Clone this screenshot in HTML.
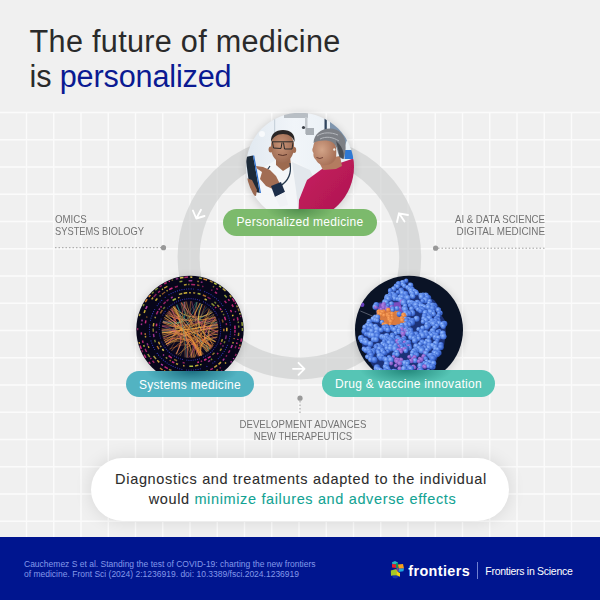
<!DOCTYPE html>
<html><head><meta charset="utf-8">
<style>
html,body{margin:0;padding:0;}
body{width:600px;height:600px;overflow:hidden;background:#f0f0f0;position:relative;font-family:"Liberation Sans",sans-serif;}
.abs{position:absolute;white-space:nowrap;}
#title{left:29.6px;top:24.4px;font-size:30.6px;line-height:35px;color:#2a2a2a;letter-spacing:0.3px;}
#title .b{color:#0a1a92;}
#title .l2{letter-spacing:-0.15px;}
.pill{position:absolute;height:27px;border-radius:14px;color:#fff;font-size:12px;line-height:27px;letter-spacing:0.3px;text-align:center;white-space:nowrap;}
.lab{position:absolute;font-size:10.4px;line-height:11.9px;color:#737373;white-space:nowrap;transform:scaleX(0.9);}
#bubble{position:absolute;left:91px;top:458px;width:418px;height:63px;border-radius:32px;background:#fff;box-shadow:0 0 18px rgba(0,0,0,0.11);}
#btext{position:absolute;left:1px;top:469.2px;width:600px;text-align:center;font-size:14.5px;line-height:20.3px;color:#2c2c2c;letter-spacing:0.67px;-webkit-text-stroke:0.08px #2c2c2c;}
#btext .l2{position:relative;left:1.5px;letter-spacing:0.64px;}
#btext .g{color:#12a393;-webkit-text-stroke:0.08px #12a393;}
#footer{position:absolute;left:0;top:537px;width:600px;height:63px;background:#00158f;}
#cite{position:absolute;left:24px;top:558.7px;font-size:8.5px;line-height:10.6px;color:#8499ea;white-space:nowrap;}
</style></head>
<body>
<svg class="abs" style="left:0;top:0" width="600" height="600" viewBox="0 0 600 600">
  <path stroke="#fbfbfb" stroke-width="1.4" fill="none" d="M26.50 112.5V537M53.75 112.5V537M81.00 112.5V537M108.25 112.5V537M135.50 112.5V537M162.75 112.5V537M190.00 112.5V537M217.25 112.5V537M244.50 112.5V537M271.75 112.5V537M299.00 112.5V537M326.25 112.5V537M353.50 112.5V537M380.75 112.5V537M408.00 112.5V537M435.25 112.5V537M462.50 112.5V537M489.75 112.5V537M517.00 112.5V537M544.25 112.5V537M571.50 112.5V537M0 112.50H600M0 139.75H600M0 167.00H600M0 194.25H600M0 221.50H600M0 248.75H600M0 276.00H600M0 303.25H600M0 330.50H600M0 357.75H600M0 385.00H600M0 412.25H600M0 439.50H600M0 466.75H600M0 494.00H600M0 521.25H600"/>
  <!-- ring -->
  <circle cx="299.4" cy="257.6" r="110.8" fill="none" stroke="#c9cccc" stroke-opacity="0.6" stroke-width="22"/>
  <!-- arrows -->
  <g stroke="#fff" stroke-width="1.85" fill="none" stroke-linecap="round" stroke-linejoin="round">
    <path d="M201 209.8L196.3 218.5M192.9 210.5L196.3 218.5L204.5 216"/>
    <path d="M404.5 221.5L399 213.3M397 222L399 213.3L408 215"/>
    <path d="M293 368.8H304.5M298.5 362.8L304.5 368.8L298.5 374.8"/>
  </g>
  <!-- dotted connectors -->
  <g stroke="#a0a0a0" stroke-width="1" stroke-dasharray="1.5 2" fill="none">
    <path d="M55 247.7H162"/>
    <path d="M438 248.2H545"/>
    <path d="M300 401V413"/>
  </g>
  <g fill="#999">
    <circle cx="163.5" cy="247.7" r="2.6"/>
    <circle cx="435.6" cy="248.2" r="2.6"/>
    <circle cx="300" cy="398.2" r="2.6"/>
  </g>
</svg>
<div id="title" class="abs">The future of medicine<br><span class="l2">is <span class="b">personalized</span></span></div>

<div class="lab" style="left:54.8px;top:213.6px;transform-origin:0 0;transform:scaleX(0.932);">OMICS</div>
<div class="lab" style="left:54.8px;top:225.5px;transform-origin:0 0;transform:scaleX(0.896);">SYSTEMS BIOLOGY</div>
<div class="lab" style="left:345px;top:213.6px;width:200px;text-align:right;transform-origin:100% 0;transform:scaleX(0.926);">AI &amp; DATA SCIENCE</div>
<div class="lab" style="left:345px;top:225.5px;width:200px;text-align:right;transform-origin:100% 0;transform:scaleX(0.951);">DIGITAL MEDICINE</div>
<div class="lab" style="left:152.8px;top:419.3px;width:300px;text-align:center;transform-origin:50% 0;transform:scaleX(0.926);">DEVELOPMENT ADVANCES</div>
<div class="lab" style="left:152.6px;top:431.2px;width:300px;text-align:center;transform-origin:50% 0;transform:scaleX(0.918);">NEW THERAPEUTICS</div>

<!-- circles -->
<svg class="abs" style="left:0;top:0" width="600" height="600" viewBox="0 0 600 600">
  <defs>
    <filter id="csh" x="-30%" y="-30%" width="160%" height="160%"><feGaussianBlur stdDeviation="4"/></filter>
    <filter id="pblur" x="-10%" y="-10%" width="120%" height="120%"><feGaussianBlur stdDeviation="0.6"/></filter>
    <clipPath id="cp1"><circle cx="300" cy="166.8" r="54"/></clipPath>
    <clipPath id="cp2"><circle cx="190" cy="329.5" r="53.7"/></clipPath>
    <clipPath id="cp3"><circle cx="409" cy="329.8" r="54"/></clipPath>
  </defs>
  <g filter="url(#csh)" fill="#000" opacity="0.16">
    <circle cx="300" cy="167.8" r="54"/><circle cx="190" cy="330.5" r="53.7"/><circle cx="409" cy="330.8" r="54"/>
  </g>
  <g clip-path="url(#cp1)"><g filter="url(#pblur)">
    <defs>
      <linearGradient id="pbg" x1="0" y1="0" x2="1" y2="0">
        <stop offset="0" stop-color="#dfe7ef"/>
        <stop offset="0.45" stop-color="#f1f5f9"/>
        <stop offset="1" stop-color="#e6edf3"/>
      </linearGradient>
      <radialGradient id="skinD" cx="0.45" cy="0.45" r="0.6">
        <stop offset="0" stop-color="#c99478"/>
        <stop offset="1" stop-color="#9a6850"/>
      </radialGradient>
      <radialGradient id="skinW" cx="0.4" cy="0.45" r="0.6">
        <stop offset="0" stop-color="#d3a488"/>
        <stop offset="1" stop-color="#a87158"/>
      </radialGradient>
      <linearGradient id="shirt" x1="0" y1="0" x2="1" y2="1">
        <stop offset="0" stop-color="#c81f61"/>
        <stop offset="1" stop-color="#a8144c"/>
      </linearGradient>
    </defs>
    <rect x="240" y="108" width="120" height="120" fill="url(#pbg)"/>
    <!-- ceiling fixtures -->
    <rect x="284" y="113" width="24" height="5" fill="#b8bec4"/>
    <rect x="305" y="117" width="2.5" height="17" fill="#c4c9ce"/>
    <rect x="306" y="128" width="8" height="7" fill="#a9afb5"/>
    <circle cx="303.5" cy="127.5" r="1.6" fill="#3a3f46"/>
    <rect x="274" y="119" width="1.2" height="30" fill="#c9d3dc"/>
    <rect x="324.5" y="117" width="2.3" height="14" fill="#30455e"/>
    <polygon points="330,121 340,124 347,140 344,148 330,135" fill="#5b7796" opacity="0.75"/>
    <rect x="344.5" y="150" width="9" height="9" fill="#2f78d3"/>
    <circle cx="262" cy="134" r="3" fill="#ffffff" opacity="0.7"/>
    <!-- doctor coat -->
    <polygon points="250,178 262,168 276,160 292,160 310,170 320,186 322,225 250,225" fill="#f4f6f8"/>
    <polygon points="292,162 310,170 318,186 318,225 300,225 296,190" fill="#e2e7ec"/>
    <!-- neck -->
    <polygon points="276,156 290,156 291,166 283,171 276,165" fill="#9d6a50"/>
    <!-- head -->
    <ellipse cx="282.5" cy="146.8" rx="11.6" ry="16" fill="url(#skinD)"/>
    <ellipse cx="270.6" cy="149.5" rx="2" ry="3" fill="#a36e52"/>
    <ellipse cx="294.2" cy="150" rx="2" ry="3" fill="#a36e52"/>
    <path d="M271 142 C270.5 134 275.5 130 283 130 C290.5 130 295.5 134 294.5 142 C293 137 289 134 283 134 C277 134 273 137 271 142Z" fill="#2b2726"/>
    <!-- glasses -->
    <path d="M272 141.8 H293.5 M272.5 142 L273.5 148 L281 148.5 L282 142.5 M283.5 142.5 L284.5 149 L292 149 L293 142.5" stroke="#2a2a2a" stroke-width="1.0" fill="none"/>
    <path d="M278 154.5 Q283 156.5 287 154.5" stroke="#5a3328" stroke-width="1" fill="none"/>
    <!-- stethoscope -->
    <path d="M270 166 C266 172 262 176 262 180 M290 163 C292 175 287 182 280 186" stroke="#25384c" stroke-width="1.2" fill="none"/>
    <!-- tablet -->
    <polygon points="245.5,157 253,155.5 259.8,193 250,190.5" fill="#1e2a38"/>
    <polygon points="253,155.5 254.2,155.6 261,193 259.8,193" fill="#2b6fd0"/>
    <!-- left hand -->
    <polygon points="246,178 252,180 257,190 256,196 250,195 246,188" fill="#9a6850"/>
    <!-- right pointing hand -->
    <polygon points="256,166 263,167 270,170 276,176 281,186 275,190 266,186 260,179 262,172 257,168.5" fill="#a26d53"/>
    <!-- watch -->
    <polygon points="271,186 281,182 285,192 275,197" fill="#1f2e4a"/>
    <polygon points="275,197 285,192 288,205 280,207" fill="#f0f2f5"/>
    <!-- woman shirt -->
    <polygon points="298,225 299,200 307,180 322,169 340,163 352,159 362,160 362,225" fill="url(#shirt)"/>
    <!-- woman neck -->
    <polygon points="318,160 340,156 342,166 336,169 323,170" fill="#b47b60"/>
    <!-- woman face -->
    <path d="M315 141 C318 137 326 136 332 138 C336 142 337 150 336 158 C334 163 329 166 322 165 C319 164 317 162 316 160 C314 158 313 156 313.5 153 C312 151 312 149 313 147.5 C313.5 145 314 143 315 141Z" fill="url(#skinW)"/>
    <!-- woman hair -->
    <path d="M313.5 143 C314 134 321 128.5 330 128.5 C339 128.5 345.5 135 345.5 144 C346 150 345 155 343.5 159 C341 159 338.5 156 337.5 151 C336.5 146 334 142 329 141 C324 140 318 140.5 313.5 143Z" fill="#7c7f85"/>
    <path d="M336 141 C341 145 345 152 343.5 159 L339.5 157 C338.5 150 337.5 146 336 141Z" fill="#4a4d53"/>
    <path d="M317 136 C323 132 331 132 338 135 M320 139 C326 136 333 137 339 141" stroke="#b4b7bc" stroke-width="1" fill="none"/>
    <ellipse cx="334.3" cy="149.5" rx="1.1" ry="1.3" fill="#f2efe8"/>
    <path d="M316.5 157.5 Q320 159.5 323 157.5" stroke="#6a3a30" stroke-width="0.9" fill="none"/>

  </g></g>
  <g clip-path="url(#cp2)">
<rect x="130" y="270" width="120" height="120" fill="#07061a"/>
<g fill="none"><path d="M241.6 338.5A52.4 52.4 0 0 1 240.9 341.7" stroke="#e0308a" stroke-width="1.5" opacity="0.86"/><path d="M240.2 344.5A52.4 52.4 0 0 1 239.6 346.3" stroke="#e89030" stroke-width="1.5" opacity="0.74"/><path d="M239.3 347.2A52.4 52.4 0 0 1 238.7 348.9" stroke="#e0308a" stroke-width="1.5" opacity="0.84"/><path d="M236.3 353.9A52.4 52.4 0 0 1 235.2 355.9" stroke="#e0308a" stroke-width="1.5" opacity="0.60"/><path d="M233.9 358.1A52.4 52.4 0 0 1 233.3 359.1" stroke="#c840b0" stroke-width="1.5" opacity="0.93"/><path d="M231.7 361.3A52.4 52.4 0 0 1 230.6 362.6" stroke="#c840b0" stroke-width="1.5" opacity="0.77"/><path d="M222.4 370.7A52.4 52.4 0 0 1 220.8 371.9" stroke="#d83080" stroke-width="1.5" opacity="0.66"/><path d="M219.5 372.8A52.4 52.4 0 0 1 217.7 374.0" stroke="#e89030" stroke-width="1.5" opacity="0.58"/><path d="M215.5 375.3A52.4 52.4 0 0 1 213.5 376.3" stroke="#d83080" stroke-width="1.5" opacity="0.74"/><path d="M204.9 379.7A52.4 52.4 0 0 1 203.7 380.1" stroke="#e0308a" stroke-width="1.5" opacity="0.73"/><path d="M188.7 381.9A52.4 52.4 0 0 1 186.8 381.8" stroke="#e89030" stroke-width="1.5" opacity="0.89"/><path d="M185.0 381.7A52.4 52.4 0 0 1 183.7 381.5" stroke="#e89030" stroke-width="1.5" opacity="0.76"/><path d="M180.8 381.1A52.4 52.4 0 0 1 178.6 380.7" stroke="#f0c040" stroke-width="1.5" opacity="0.59"/><path d="M173.1 379.1A52.4 52.4 0 0 1 170.4 378.1" stroke="#e0308a" stroke-width="1.5" opacity="0.61"/><path d="M168.2 377.1A52.4 52.4 0 0 1 167.0 376.6" stroke="#b8c840" stroke-width="1.5" opacity="0.56"/><path d="M164.3 375.2A52.4 52.4 0 0 1 161.5 373.5" stroke="#b8c840" stroke-width="1.5" opacity="0.61"/><path d="M150.3 363.7A52.4 52.4 0 0 1 148.8 361.9" stroke="#e0308a" stroke-width="1.5" opacity="0.89"/><path d="M145.9 357.8A52.4 52.4 0 0 1 144.1 354.7" stroke="#e0308a" stroke-width="1.5" opacity="0.83"/><path d="M142.7 352.1A52.4 52.4 0 0 1 141.9 350.2" stroke="#d83080" stroke-width="1.5" opacity="0.60"/><path d="M141.3 348.9A52.4 52.4 0 0 1 140.1 345.6" stroke="#e0308a" stroke-width="1.5" opacity="0.90"/><path d="M139.6 343.7A52.4 52.4 0 0 1 139.1 342.1" stroke="#f0c040" stroke-width="1.5" opacity="0.90"/><path d="M137.6 330.2A52.4 52.4 0 0 1 137.6 328.0" stroke="#e0308a" stroke-width="1.5" opacity="0.66"/><path d="M139.3 316.1A52.4 52.4 0 0 1 140.0 313.7" stroke="#f0d850" stroke-width="1.5" opacity="0.74"/><path d="M143.1 306.1A52.4 52.4 0 0 1 144.1 304.1" stroke="#b8c840" stroke-width="1.5" opacity="0.69"/><path d="M145.3 302.2A52.4 52.4 0 0 1 147.2 299.2" stroke="#e89030" stroke-width="1.5" opacity="0.93"/><path d="M148.8 297.1A52.4 52.4 0 0 1 150.5 295.0" stroke="#e89030" stroke-width="1.5" opacity="0.92"/><path d="M151.9 293.6A52.4 52.4 0 0 1 153.6 291.8" stroke="#b8c840" stroke-width="1.5" opacity="0.62"/><path d="M155.3 290.2A52.4 52.4 0 0 1 157.9 288.0" stroke="#b8c840" stroke-width="1.5" opacity="0.67"/><path d="M159.6 286.8A52.4 52.4 0 0 1 161.9 285.3" stroke="#e0308a" stroke-width="1.5" opacity="0.63"/><path d="M164.2 283.9A52.4 52.4 0 0 1 166.7 282.5" stroke="#d83080" stroke-width="1.5" opacity="0.80"/><path d="M168.7 281.6A52.4 52.4 0 0 1 169.9 281.1" stroke="#e0308a" stroke-width="1.5" opacity="0.91"/><path d="M171.6 280.4A52.4 52.4 0 0 1 173.0 279.9" stroke="#f0c040" stroke-width="1.5" opacity="0.56"/><path d="M175.8 279.1A52.4 52.4 0 0 1 178.3 278.4" stroke="#c840b0" stroke-width="1.5" opacity="0.65"/><path d="M179.9 278.1A52.4 52.4 0 0 1 183.5 277.5" stroke="#f0d850" stroke-width="1.5" opacity="0.89"/><path d="M184.3 277.4A52.4 52.4 0 0 1 188.0 277.1" stroke="#e0308a" stroke-width="1.5" opacity="0.77"/><path d="M190.3 277.1A52.4 52.4 0 0 1 192.3 277.2" stroke="#f0d850" stroke-width="1.5" opacity="0.93"/><path d="M198.9 277.9A52.4 52.4 0 0 1 201.9 278.5" stroke="#b8c840" stroke-width="1.5" opacity="0.78"/><path d="M203.4 278.9A52.4 52.4 0 0 1 207.1 280.0" stroke="#e89030" stroke-width="1.5" opacity="0.88"/><path d="M209.9 281.0A52.4 52.4 0 0 1 212.7 282.3" stroke="#f0c040" stroke-width="1.5" opacity="0.61"/><path d="M214.1 283.0A52.4 52.4 0 0 1 216.7 284.4" stroke="#b8c840" stroke-width="1.5" opacity="0.94"/><path d="M219.1 285.9A52.4 52.4 0 0 1 221.2 287.4" stroke="#b8c840" stroke-width="1.5" opacity="0.93"/><path d="M222.7 288.5A52.4 52.4 0 0 1 225.5 291.0" stroke="#f0d850" stroke-width="1.5" opacity="0.75"/><path d="M229.7 295.3A52.4 52.4 0 0 1 231.3 297.2" stroke="#e8c838" stroke-width="1.5" opacity="0.81"/><path d="M232.2 298.4A52.4 52.4 0 0 1 234.4 301.6" stroke="#d83080" stroke-width="1.5" opacity="0.88"/><path d="M235.1 302.7A52.4 52.4 0 0 1 235.7 303.8" stroke="#e0308a" stroke-width="1.5" opacity="0.86"/><path d="M236.6 305.5A52.4 52.4 0 0 1 237.4 307.2" stroke="#f0d850" stroke-width="1.5" opacity="0.67"/><path d="M238.0 308.5A52.4 52.4 0 0 1 239.1 311.2" stroke="#e8c838" stroke-width="1.5" opacity="0.56"/><path d="M239.7 312.9A52.4 52.4 0 0 1 240.2 314.4" stroke="#f0d850" stroke-width="1.5" opacity="0.84"/><path d="M240.6 315.8A52.4 52.4 0 0 1 240.9 317.0" stroke="#d83080" stroke-width="1.5" opacity="0.56"/><path d="M241.9 322.2A52.4 52.4 0 0 1 242.3 325.9" stroke="#b8c840" stroke-width="1.5" opacity="0.79"/><path d="M242.4 327.9A52.4 52.4 0 0 1 242.4 331.0" stroke="#b8c840" stroke-width="1.5" opacity="0.74"/><path d="M238.7 332.8A48.8 48.8 0 0 1 238.4 336.0" stroke="#e8c838" stroke-width="1.5" opacity="0.67"/><path d="M237.9 338.8A48.8 48.8 0 0 1 237.7 339.9" stroke="#e0308a" stroke-width="1.5" opacity="0.91"/><path d="M237.1 342.4A48.8 48.8 0 0 1 236.6 343.9" stroke="#e0308a" stroke-width="1.5" opacity="0.94"/><path d="M236.0 345.7A48.8 48.8 0 0 1 235.1 348.2" stroke="#e0308a" stroke-width="1.5" opacity="0.58"/><path d="M226.0 362.5A48.8 48.8 0 0 1 225.0 363.5" stroke="#e8c838" stroke-width="1.5" opacity="0.83"/><path d="M220.9 367.3A48.8 48.8 0 0 1 219.6 368.3" stroke="#d83080" stroke-width="1.5" opacity="0.58"/><path d="M217.9 369.6A48.8 48.8 0 0 1 216.4 370.6" stroke="#e8c838" stroke-width="1.5" opacity="0.66"/><path d="M214.6 371.6A48.8 48.8 0 0 1 212.2 373.0" stroke="#d83080" stroke-width="1.5" opacity="0.55"/><path d="M211.2 373.4A48.8 48.8 0 0 1 209.9 374.1" stroke="#e89030" stroke-width="1.5" opacity="0.93"/><path d="M207.8 374.9A48.8 48.8 0 0 1 205.7 375.7" stroke="#d83080" stroke-width="1.5" opacity="0.78"/><path d="M200.4 377.2A48.8 48.8 0 0 1 197.7 377.7" stroke="#c840b0" stroke-width="1.5" opacity="0.65"/><path d="M196.5 377.9A48.8 48.8 0 0 1 193.2 378.2" stroke="#c840b0" stroke-width="1.5" opacity="0.90"/><path d="M191.2 378.3A48.8 48.8 0 0 1 188.8 378.3" stroke="#e0308a" stroke-width="1.5" opacity="0.81"/><path d="M187.1 378.2A48.8 48.8 0 0 1 185.7 378.1" stroke="#e8c838" stroke-width="1.5" opacity="0.75"/><path d="M183.4 377.9A48.8 48.8 0 0 1 181.0 377.5" stroke="#e89030" stroke-width="1.5" opacity="0.59"/><path d="M179.4 377.1A48.8 48.8 0 0 1 176.8 376.5" stroke="#d83080" stroke-width="1.5" opacity="0.93"/><path d="M170.2 374.1A48.8 48.8 0 0 1 168.9 373.5" stroke="#c840b0" stroke-width="1.5" opacity="0.61"/><path d="M166.4 372.2A48.8 48.8 0 0 1 163.9 370.7" stroke="#e89030" stroke-width="1.5" opacity="0.92"/><path d="M162.6 369.9A48.8 48.8 0 0 1 160.0 368.0" stroke="#e89030" stroke-width="1.5" opacity="0.81"/><path d="M154.3 362.8A48.8 48.8 0 0 1 152.5 360.8" stroke="#d83080" stroke-width="1.5" opacity="0.71"/><path d="M151.2 359.1A48.8 48.8 0 0 1 150.4 357.9" stroke="#e0308a" stroke-width="1.5" opacity="0.75"/><path d="M149.8 357.2A48.8 48.8 0 0 1 147.8 354.0" stroke="#b8c840" stroke-width="1.5" opacity="0.74"/><path d="M146.7 352.0A48.8 48.8 0 0 1 145.1 348.7" stroke="#e0308a" stroke-width="1.5" opacity="0.73"/><path d="M144.3 346.7A48.8 48.8 0 0 1 143.7 345.1" stroke="#b8c840" stroke-width="1.5" opacity="0.90"/><path d="M143.1 342.9A48.8 48.8 0 0 1 142.5 340.5" stroke="#d83080" stroke-width="1.5" opacity="0.85"/><path d="M141.5 334.6A48.8 48.8 0 0 1 141.3 332.4" stroke="#e0308a" stroke-width="1.5" opacity="0.83"/><path d="M141.4 325.1A48.8 48.8 0 0 1 141.6 323.5" stroke="#c840b0" stroke-width="1.5" opacity="0.84"/><path d="M141.9 321.3A48.8 48.8 0 0 1 142.2 319.7" stroke="#c840b0" stroke-width="1.5" opacity="0.81"/><path d="M144.1 313.0A48.8 48.8 0 0 1 145.2 310.1" stroke="#e8c838" stroke-width="1.5" opacity="0.84"/><path d="M145.7 309.0A48.8 48.8 0 0 1 147.2 306.1" stroke="#c840b0" stroke-width="1.5" opacity="0.93"/><path d="M151.6 299.4A48.8 48.8 0 0 1 153.1 297.6" stroke="#f0c040" stroke-width="1.5" opacity="0.78"/><path d="M153.7 296.9A48.8 48.8 0 0 1 156.4 294.1" stroke="#e0308a" stroke-width="1.5" opacity="0.59"/><path d="M158.1 292.6A48.8 48.8 0 0 1 160.1 291.0" stroke="#e0308a" stroke-width="1.5" opacity="0.71"/><path d="M161.9 289.6A48.8 48.8 0 0 1 163.0 288.8" stroke="#f0d850" stroke-width="1.5" opacity="0.81"/><path d="M164.2 288.1A48.8 48.8 0 0 1 167.4 286.3" stroke="#f0c040" stroke-width="1.5" opacity="0.81"/><path d="M179.5 281.8A48.8 48.8 0 0 1 182.4 281.3" stroke="#b8c840" stroke-width="1.5" opacity="0.78"/><path d="M188.6 280.7A48.8 48.8 0 0 1 192.3 280.8" stroke="#c840b0" stroke-width="1.5" opacity="0.77"/><path d="M197.2 281.2A48.8 48.8 0 0 1 199.1 281.6" stroke="#f0c040" stroke-width="1.5" opacity="0.58"/><path d="M200.8 281.9A48.8 48.8 0 0 1 202.6 282.4" stroke="#c840b0" stroke-width="1.5" opacity="0.66"/><path d="M212.9 286.4A48.8 48.8 0 0 1 214.1 287.1" stroke="#f0c040" stroke-width="1.5" opacity="0.55"/><path d="M216.3 288.4A48.8 48.8 0 0 1 217.9 289.5" stroke="#e0308a" stroke-width="1.5" opacity="0.73"/><path d="M224.5 295.0A48.8 48.8 0 0 1 226.7 297.4" stroke="#b8c840" stroke-width="1.5" opacity="0.77"/><path d="M228.2 299.2A48.8 48.8 0 0 1 229.5 300.8" stroke="#e0308a" stroke-width="1.5" opacity="0.82"/><path d="M231.9 304.5A48.8 48.8 0 0 1 233.3 306.9" stroke="#d83080" stroke-width="1.5" opacity="0.88"/><path d="M235.2 311.1A48.8 48.8 0 0 1 235.7 312.3" stroke="#c840b0" stroke-width="1.5" opacity="0.68"/><path d="M237.3 317.3A48.8 48.8 0 0 1 238.0 320.5" stroke="#d83080" stroke-width="1.5" opacity="0.80"/><path d="M238.1 321.5A48.8 48.8 0 0 1 238.4 323.1" stroke="#b8c840" stroke-width="1.5" opacity="0.60"/><path d="M238.6 325.5A48.8 48.8 0 0 1 238.8 327.6" stroke="#b8c840" stroke-width="1.5" opacity="0.62"/><path d="M235.0 329.7A45.0 45.0 0 0 1 234.9 332.8" stroke="#e0308a" stroke-width="1.5" opacity="0.79"/><path d="M234.8 333.9A45.0 45.0 0 0 1 234.6 335.4" stroke="#e0308a" stroke-width="1.5" opacity="0.63"/><path d="M234.2 338.0A45.0 45.0 0 0 1 234.0 339.2" stroke="#e89030" stroke-width="1.5" opacity="0.71"/><path d="M233.3 341.9A45.0 45.0 0 0 1 232.7 343.6" stroke="#f0c040" stroke-width="1.5" opacity="0.76"/><path d="M232.3 344.9A45.0 45.0 0 0 1 231.0 348.0" stroke="#c840b0" stroke-width="1.5" opacity="0.88"/><path d="M229.9 350.3A45.0 45.0 0 0 1 228.4 352.9" stroke="#e0308a" stroke-width="1.5" opacity="0.71"/><path d="M226.9 355.3A45.0 45.0 0 0 1 225.9 356.6" stroke="#e0308a" stroke-width="1.5" opacity="0.59"/><path d="M224.3 358.6A45.0 45.0 0 0 1 222.8 360.4" stroke="#c840b0" stroke-width="1.5" opacity="0.87"/><path d="M221.0 362.1A45.0 45.0 0 0 1 218.5 364.3" stroke="#f0c040" stroke-width="1.5" opacity="0.80"/><path d="M217.1 365.4A45.0 45.0 0 0 1 214.3 367.4" stroke="#f0c040" stroke-width="1.5" opacity="0.79"/><path d="M212.9 368.3A45.0 45.0 0 0 1 210.3 369.7" stroke="#e0308a" stroke-width="1.5" opacity="0.79"/><path d="M207.9 370.8A45.0 45.0 0 0 1 205.5 371.7" stroke="#b8c840" stroke-width="1.5" opacity="0.73"/><path d="M198.4 373.7A45.0 45.0 0 0 1 195.7 374.1" stroke="#b8c840" stroke-width="1.5" opacity="0.70"/><path d="M194.7 374.2A45.0 45.0 0 0 1 191.9 374.5" stroke="#f0d850" stroke-width="1.5" opacity="0.66"/><path d="M189.6 374.5A45.0 45.0 0 0 1 188.3 374.5" stroke="#b8c840" stroke-width="1.5" opacity="0.67"/><path d="M180.7 373.5A45.0 45.0 0 0 1 179.3 373.2" stroke="#f0d850" stroke-width="1.5" opacity="0.91"/><path d="M171.5 370.5A45.0 45.0 0 0 1 168.9 369.3" stroke="#e8c838" stroke-width="1.5" opacity="0.65"/><path d="M167.8 368.7A45.0 45.0 0 0 1 164.5 366.6" stroke="#e0308a" stroke-width="1.5" opacity="0.82"/><path d="M162.9 365.4A45.0 45.0 0 0 1 161.1 364.0" stroke="#c840b0" stroke-width="1.5" opacity="0.91"/><path d="M159.3 362.4A45.0 45.0 0 0 1 157.2 360.3" stroke="#f0c040" stroke-width="1.5" opacity="0.83"/><path d="M156.1 359.1A45.0 45.0 0 0 1 153.6 356.0" stroke="#f0d850" stroke-width="1.5" opacity="0.67"/><path d="M149.0 347.9A45.0 45.0 0 0 1 148.2 346.3" stroke="#f0c040" stroke-width="1.5" opacity="0.84"/><path d="M147.9 345.4A45.0 45.0 0 0 1 147.1 343.2" stroke="#c840b0" stroke-width="1.5" opacity="0.67"/><path d="M145.7 337.5A45.0 45.0 0 0 1 145.4 335.8" stroke="#f0c040" stroke-width="1.5" opacity="0.79"/><path d="M145.3 334.9A45.0 45.0 0 0 1 145.2 333.2" stroke="#e89030" stroke-width="1.5" opacity="0.84"/><path d="M145.4 323.4A45.0 45.0 0 0 1 145.9 320.4" stroke="#e0308a" stroke-width="1.5" opacity="0.89"/><path d="M146.6 317.7A45.0 45.0 0 0 1 146.9 316.5" stroke="#e89030" stroke-width="1.5" opacity="0.61"/><path d="M155.5 300.7A45.0 45.0 0 0 1 157.4 298.5" stroke="#e8c838" stroke-width="1.5" opacity="0.88"/><path d="M159.5 296.4A45.0 45.0 0 0 1 160.8 295.3" stroke="#e8c838" stroke-width="1.5" opacity="0.65"/><path d="M162.0 294.3A45.0 45.0 0 0 1 165.1 292.0" stroke="#e89030" stroke-width="1.5" opacity="0.60"/><path d="M166.6 291.1A45.0 45.0 0 0 1 167.7 290.4" stroke="#e8c838" stroke-width="1.5" opacity="0.75"/><path d="M169.1 289.7A45.0 45.0 0 0 1 172.5 288.0" stroke="#e0308a" stroke-width="1.5" opacity="0.95"/><path d="M174.8 287.2A45.0 45.0 0 0 1 177.9 286.2" stroke="#d83080" stroke-width="1.5" opacity="0.67"/><path d="M183.9 284.9A45.0 45.0 0 0 1 186.7 284.6" stroke="#e8c838" stroke-width="1.5" opacity="0.76"/><path d="M188.2 284.5A45.0 45.0 0 0 1 189.5 284.5" stroke="#e8c838" stroke-width="1.5" opacity="0.61"/><path d="M191.2 284.5A45.0 45.0 0 0 1 195.1 284.8" stroke="#d83080" stroke-width="1.5" opacity="0.77"/><path d="M197.1 285.1A45.0 45.0 0 0 1 199.4 285.5" stroke="#e89030" stroke-width="1.5" opacity="0.60"/><path d="M202.1 286.2A45.0 45.0 0 0 1 203.5 286.6" stroke="#e0308a" stroke-width="1.5" opacity="0.56"/><path d="M211.1 289.8A45.0 45.0 0 0 1 212.4 290.5" stroke="#e0308a" stroke-width="1.5" opacity="0.55"/><path d="M214.9 292.0A45.0 45.0 0 0 1 217.1 293.5" stroke="#e0308a" stroke-width="1.5" opacity="0.75"/><path d="M224.6 300.7A45.0 45.0 0 0 1 226.4 303.1" stroke="#e0308a" stroke-width="1.5" opacity="0.72"/><path d="M230.5 310.0A45.0 45.0 0 0 1 231.5 312.2" stroke="#d83080" stroke-width="1.5" opacity="0.91"/><path d="M232.5 314.8A45.0 45.0 0 0 1 233.0 316.3" stroke="#e8c838" stroke-width="1.5" opacity="0.95"/><path d="M233.7 318.7A45.0 45.0 0 0 1 234.1 320.5" stroke="#e0308a" stroke-width="1.5" opacity="0.70"/><path d="M234.8 325.6A45.0 45.0 0 0 1 235.0 328.9" stroke="#e0308a" stroke-width="1.5" opacity="0.91"/><path d="M226.3 335.3A36.8 36.8 0 0 1 225.5 339.1" stroke="#c840b0" stroke-width="1.5" opacity="0.58"/><path d="M224.9 341.2A36.8 36.8 0 0 1 224.1 343.2" stroke="#b8c840" stroke-width="1.5" opacity="0.58"/><path d="M223.3 345.2A36.8 36.8 0 0 1 222.6 346.6" stroke="#c840b0" stroke-width="1.5" opacity="0.61"/><path d="M221.5 348.6A36.8 36.8 0 0 1 220.0 350.8" stroke="#e8c838" stroke-width="1.5" opacity="0.66"/><path d="M218.2 353.1A36.8 36.8 0 0 1 217.2 354.2" stroke="#e0308a" stroke-width="1.5" opacity="0.77"/><path d="M212.2 358.8A36.8 36.8 0 0 1 210.9 359.8" stroke="#b8c840" stroke-width="1.5" opacity="0.60"/><path d="M210.2 360.3A36.8 36.8 0 0 1 208.0 361.6" stroke="#c840b0" stroke-width="1.5" opacity="0.72"/><path d="M201.5 364.4A36.8 36.8 0 0 1 200.2 364.8" stroke="#b8c840" stroke-width="1.5" opacity="0.90"/><path d="M198.4 365.3A36.8 36.8 0 0 1 195.1 365.9" stroke="#e8c838" stroke-width="1.5" opacity="0.81"/><path d="M193.1 366.2A36.8 36.8 0 0 1 189.3 366.3" stroke="#b8c840" stroke-width="1.5" opacity="0.95"/><path d="M184.5 365.9A36.8 36.8 0 0 1 183.1 365.6" stroke="#f0c040" stroke-width="1.5" opacity="0.80"/><path d="M178.1 364.3A36.8 36.8 0 0 1 176.0 363.5" stroke="#e8c838" stroke-width="1.5" opacity="0.75"/><path d="M174.4 362.8A36.8 36.8 0 0 1 171.9 361.6" stroke="#e0308a" stroke-width="1.5" opacity="0.85"/><path d="M170.9 360.9A36.8 36.8 0 0 1 169.6 360.1" stroke="#e89030" stroke-width="1.5" opacity="0.66"/><path d="M167.3 358.5A36.8 36.8 0 0 1 165.8 357.2" stroke="#f0d850" stroke-width="1.5" opacity="0.65"/><path d="M164.0 355.5A36.8 36.8 0 0 1 163.1 354.6" stroke="#c840b0" stroke-width="1.5" opacity="0.83"/><path d="M158.9 349.1A36.8 36.8 0 0 1 157.1 346.0" stroke="#e89030" stroke-width="1.5" opacity="0.77"/><path d="M155.4 342.2A36.8 36.8 0 0 1 154.6 339.7" stroke="#b8c840" stroke-width="1.5" opacity="0.60"/><path d="M154.0 337.1A36.8 36.8 0 0 1 153.5 333.9" stroke="#c840b0" stroke-width="1.5" opacity="0.76"/><path d="M153.3 331.8A36.8 36.8 0 0 1 153.2 328.6" stroke="#e8c838" stroke-width="1.5" opacity="0.57"/><path d="M153.3 326.3A36.8 36.8 0 0 1 153.8 323.1" stroke="#f0c040" stroke-width="1.5" opacity="0.84"/><path d="M155.0 318.2A36.8 36.8 0 0 1 155.5 316.7" stroke="#f0d850" stroke-width="1.5" opacity="0.67"/><path d="M156.4 314.4A36.8 36.8 0 0 1 158.1 311.2" stroke="#e0308a" stroke-width="1.5" opacity="0.74"/><path d="M158.9 309.9A36.8 36.8 0 0 1 159.8 308.5" stroke="#c840b0" stroke-width="1.5" opacity="0.73"/><path d="M160.5 307.5A36.8 36.8 0 0 1 161.5 306.2" stroke="#e0308a" stroke-width="1.5" opacity="0.80"/><path d="M163.5 304.0A36.8 36.8 0 0 1 165.7 301.9" stroke="#e0308a" stroke-width="1.5" opacity="0.62"/><path d="M166.6 301.1A36.8 36.8 0 0 1 168.6 299.5" stroke="#e0308a" stroke-width="1.5" opacity="0.61"/><path d="M171.0 298.0A36.8 36.8 0 0 1 172.7 297.0" stroke="#c840b0" stroke-width="1.5" opacity="0.77"/><path d="M178.9 294.4A36.8 36.8 0 0 1 182.3 293.5" stroke="#f0d850" stroke-width="1.5" opacity="0.72"/><path d="M183.7 293.2A36.8 36.8 0 0 1 187.2 292.8" stroke="#e8c838" stroke-width="1.5" opacity="0.93"/><path d="M189.2 292.7A36.8 36.8 0 0 1 190.7 292.7" stroke="#e8c838" stroke-width="1.5" opacity="0.90"/><path d="M193.2 292.8A36.8 36.8 0 0 1 195.2 293.1" stroke="#f0c040" stroke-width="1.5" opacity="0.70"/><path d="M197.6 293.5A36.8 36.8 0 0 1 200.5 294.2" stroke="#b8c840" stroke-width="1.5" opacity="0.89"/><path d="M202.8 295.0A36.8 36.8 0 0 1 206.1 296.4" stroke="#e89030" stroke-width="1.5" opacity="0.71"/><path d="M207.5 297.1A36.8 36.8 0 0 1 210.6 299.0" stroke="#d83080" stroke-width="1.5" opacity="0.57"/><path d="M214.4 301.9A36.8 36.8 0 0 1 216.1 303.5" stroke="#b8c840" stroke-width="1.5" opacity="0.56"/><path d="M217.3 304.9A36.8 36.8 0 0 1 219.1 307.0" stroke="#f0c040" stroke-width="1.5" opacity="0.68"/><path d="M220.0 308.1A36.8 36.8 0 0 1 221.2 310.0" stroke="#d83080" stroke-width="1.5" opacity="0.86"/><path d="M221.7 310.8A36.8 36.8 0 0 1 222.4 312.1" stroke="#f0c040" stroke-width="1.5" opacity="0.70"/><path d="M223.3 313.9A36.8 36.8 0 0 1 223.9 315.3" stroke="#b8c840" stroke-width="1.5" opacity="0.57"/><path d="M224.5 316.7A36.8 36.8 0 0 1 225.6 320.2" stroke="#d83080" stroke-width="1.5" opacity="0.92"/><path d="M226.2 323.1A36.8 36.8 0 0 1 226.5 325.1" stroke="#d83080" stroke-width="1.5" opacity="0.67"/><path d="M226.8 327.7A36.8 36.8 0 0 1 226.8 331.3" stroke="#f0c040" stroke-width="1.5" opacity="0.92"/><path d="M222.4 339.1A33.8 33.8 0 0 1 221.5 341.8" stroke="#e8c838" stroke-width="1.5" opacity="0.73"/><path d="M221.1 342.8A33.8 33.8 0 0 1 220.3 344.5" stroke="#e0308a" stroke-width="1.5" opacity="0.65"/><path d="M214.5 352.8A33.8 33.8 0 0 1 212.4 354.8" stroke="#f0c040" stroke-width="1.5" opacity="0.60"/><path d="M210.6 356.3A33.8 33.8 0 0 1 207.8 358.2" stroke="#e0308a" stroke-width="1.5" opacity="0.90"/><path d="M206.5 359.0A33.8 33.8 0 0 1 204.1 360.2" stroke="#e0308a" stroke-width="1.5" opacity="0.90"/><path d="M202.1 361.0A33.8 33.8 0 0 1 200.7 361.6" stroke="#d83080" stroke-width="1.5" opacity="0.67"/><path d="M199.0 362.1A33.8 33.8 0 0 1 197.3 362.5" stroke="#e0308a" stroke-width="1.5" opacity="0.93"/><path d="M184.7 362.9A33.8 33.8 0 0 1 182.6 362.5" stroke="#e0308a" stroke-width="1.5" opacity="0.61"/><path d="M177.1 360.7A33.8 33.8 0 0 1 174.1 359.3" stroke="#f0c040" stroke-width="1.5" opacity="0.55"/><path d="M171.8 358.0A33.8 33.8 0 0 1 168.6 355.7" stroke="#d83080" stroke-width="1.5" opacity="0.89"/><path d="M163.7 350.8A33.8 33.8 0 0 1 162.4 349.0" stroke="#f0d850" stroke-width="1.5" opacity="0.92"/><path d="M161.2 347.1A33.8 33.8 0 0 1 160.3 345.6" stroke="#f0c040" stroke-width="1.5" opacity="0.70"/><path d="M159.7 344.4A33.8 33.8 0 0 1 158.5 341.8" stroke="#f0c040" stroke-width="1.5" opacity="0.79"/><path d="M156.4 333.0A33.8 33.8 0 0 1 156.3 331.4" stroke="#c840b0" stroke-width="1.5" opacity="0.59"/><path d="M156.4 326.2A33.8 33.8 0 0 1 156.7 323.7" stroke="#e0308a" stroke-width="1.5" opacity="0.88"/><path d="M160.3 313.3A33.8 33.8 0 0 1 162.4 310.0" stroke="#e89030" stroke-width="1.5" opacity="0.63"/><path d="M163.2 309.0A33.8 33.8 0 0 1 164.9 306.9" stroke="#b8c840" stroke-width="1.5" opacity="0.55"/><path d="M172.6 300.5A33.8 33.8 0 0 1 175.9 298.8" stroke="#b8c840" stroke-width="1.5" opacity="0.91"/><path d="M178.0 297.9A33.8 33.8 0 0 1 179.5 297.4" stroke="#f0c040" stroke-width="1.5" opacity="0.86"/><path d="M204.6 299.0A33.8 33.8 0 0 1 206.8 300.1" stroke="#f0d850" stroke-width="1.5" opacity="0.84"/><path d="M211.5 303.4A33.8 33.8 0 0 1 214.4 306.1" stroke="#b8c840" stroke-width="1.5" opacity="0.69"/><path d="M215.1 306.9A33.8 33.8 0 0 1 216.2 308.1" stroke="#d83080" stroke-width="1.5" opacity="0.83"/><path d="M222.2 319.4A33.8 33.8 0 0 1 223.1 322.5" stroke="#e89030" stroke-width="1.5" opacity="0.55"/><path d="M223.8 328.7A33.8 33.8 0 0 1 223.8 331.2" stroke="#e89030" stroke-width="1.5" opacity="0.79"/></g>
<circle cx="220.8" cy="329.5" r="0.6" fill="#3030a0"/><circle cx="220.7" cy="331.6" r="0.6" fill="#3030a0"/><circle cx="220.5" cy="333.8" r="0.6" fill="#3030a0"/><circle cx="220.1" cy="335.9" r="0.6" fill="#3030a0"/><circle cx="219.6" cy="338.0" r="0.6" fill="#3030a0"/><circle cx="218.9" cy="340.0" r="0.6" fill="#3030a0"/><circle cx="218.1" cy="342.0" r="0.6" fill="#3030a0"/><circle cx="217.2" cy="344.0" r="0.6" fill="#3030a0"/><circle cx="216.1" cy="345.8" r="0.6" fill="#3030a0"/><circle cx="214.9" cy="347.6" r="0.6" fill="#3030a0"/><circle cx="213.6" cy="349.3" r="0.6" fill="#3030a0"/><circle cx="212.2" cy="350.9" r="0.6" fill="#3030a0"/><circle cx="210.6" cy="352.4" r="0.6" fill="#3030a0"/><circle cx="209.0" cy="353.8" r="0.6" fill="#3030a0"/><circle cx="207.2" cy="355.0" r="0.6" fill="#3030a0"/><circle cx="205.4" cy="356.2" r="0.6" fill="#3030a0"/><circle cx="203.5" cy="357.2" r="0.6" fill="#3030a0"/><circle cx="199.5" cy="358.8" r="0.6" fill="#3030a0"/><circle cx="197.5" cy="359.4" r="0.6" fill="#3030a0"/><circle cx="195.3" cy="359.8" r="0.6" fill="#3030a0"/><circle cx="193.2" cy="360.1" r="0.6" fill="#3030a0"/><circle cx="191.1" cy="360.3" r="0.6" fill="#3030a0"/><circle cx="188.9" cy="360.3" r="0.6" fill="#3030a0"/><circle cx="186.8" cy="360.1" r="0.6" fill="#3030a0"/><circle cx="182.5" cy="359.4" r="0.6" fill="#3030a0"/><circle cx="180.5" cy="358.8" r="0.6" fill="#3030a0"/><circle cx="178.5" cy="358.1" r="0.6" fill="#3030a0"/><circle cx="176.5" cy="357.2" r="0.6" fill="#3030a0"/><circle cx="174.6" cy="356.2" r="0.6" fill="#3030a0"/><circle cx="172.8" cy="355.0" r="0.6" fill="#3030a0"/><circle cx="171.0" cy="353.8" r="0.6" fill="#3030a0"/><circle cx="169.4" cy="352.4" r="0.6" fill="#3030a0"/><circle cx="167.8" cy="350.9" r="0.6" fill="#3030a0"/><circle cx="166.4" cy="349.3" r="0.6" fill="#3030a0"/><circle cx="165.1" cy="347.6" r="0.6" fill="#3030a0"/><circle cx="163.9" cy="345.8" r="0.6" fill="#3030a0"/><circle cx="162.8" cy="344.0" r="0.6" fill="#3030a0"/><circle cx="161.9" cy="342.0" r="0.6" fill="#3030a0"/><circle cx="160.4" cy="338.0" r="0.6" fill="#3030a0"/><circle cx="159.9" cy="335.9" r="0.6" fill="#3030a0"/><circle cx="159.5" cy="333.8" r="0.6" fill="#3030a0"/><circle cx="159.2" cy="329.5" r="0.6" fill="#3030a0"/><circle cx="159.3" cy="327.4" r="0.6" fill="#3030a0"/><circle cx="159.5" cy="325.2" r="0.6" fill="#3030a0"/><circle cx="159.9" cy="323.1" r="0.6" fill="#3030a0"/><circle cx="160.4" cy="321.0" r="0.6" fill="#3030a0"/><circle cx="161.1" cy="319.0" r="0.6" fill="#3030a0"/><circle cx="162.8" cy="315.0" r="0.6" fill="#3030a0"/><circle cx="163.9" cy="313.2" r="0.6" fill="#3030a0"/><circle cx="165.1" cy="311.4" r="0.6" fill="#3030a0"/><circle cx="167.8" cy="308.1" r="0.6" fill="#3030a0"/><circle cx="169.4" cy="306.6" r="0.6" fill="#3030a0"/><circle cx="171.0" cy="305.2" r="0.6" fill="#3030a0"/><circle cx="172.8" cy="304.0" r="0.6" fill="#3030a0"/><circle cx="174.6" cy="302.8" r="0.6" fill="#3030a0"/><circle cx="176.5" cy="301.8" r="0.6" fill="#3030a0"/><circle cx="178.5" cy="300.9" r="0.6" fill="#3030a0"/><circle cx="180.5" cy="300.2" r="0.6" fill="#3030a0"/><circle cx="182.5" cy="299.6" r="0.6" fill="#3030a0"/><circle cx="184.7" cy="299.2" r="0.6" fill="#3030a0"/><circle cx="186.8" cy="298.9" r="0.6" fill="#3030a0"/><circle cx="188.9" cy="298.7" r="0.6" fill="#3030a0"/><circle cx="191.1" cy="298.7" r="0.6" fill="#3030a0"/><circle cx="193.2" cy="298.9" r="0.6" fill="#3030a0"/><circle cx="195.3" cy="299.2" r="0.6" fill="#3030a0"/><circle cx="197.5" cy="299.6" r="0.6" fill="#3030a0"/><circle cx="199.5" cy="300.2" r="0.6" fill="#3030a0"/><circle cx="203.5" cy="301.8" r="0.6" fill="#3030a0"/><circle cx="205.4" cy="302.8" r="0.6" fill="#3030a0"/><circle cx="207.2" cy="304.0" r="0.6" fill="#3030a0"/><circle cx="209.0" cy="305.2" r="0.6" fill="#3030a0"/><circle cx="210.6" cy="306.6" r="0.6" fill="#3030a0"/><circle cx="212.2" cy="308.1" r="0.6" fill="#3030a0"/><circle cx="213.6" cy="309.7" r="0.6" fill="#3030a0"/><circle cx="214.9" cy="311.4" r="0.6" fill="#3030a0"/><circle cx="216.1" cy="313.2" r="0.6" fill="#3030a0"/><circle cx="217.2" cy="315.0" r="0.6" fill="#3030a0"/><circle cx="218.9" cy="319.0" r="0.6" fill="#3030a0"/><circle cx="219.6" cy="321.0" r="0.6" fill="#3030a0"/><circle cx="220.1" cy="323.1" r="0.6" fill="#3030a0"/><circle cx="220.5" cy="325.2" r="0.6" fill="#3030a0"/><circle cx="220.7" cy="327.4" r="0.6" fill="#3030a0"/><circle cx="230.6" cy="329.5" r="0.6" fill="#3535b0"/><circle cx="230.5" cy="331.8" r="0.6" fill="#3535b0"/><circle cx="230.3" cy="334.1" r="0.6" fill="#3535b0"/><circle cx="230.0" cy="336.4" r="0.6" fill="#3535b0"/><circle cx="229.5" cy="338.7" r="0.6" fill="#3535b0"/><circle cx="229.0" cy="340.9" r="0.6" fill="#3535b0"/><circle cx="227.4" cy="345.3" r="0.6" fill="#3535b0"/><circle cx="226.4" cy="347.4" r="0.6" fill="#3535b0"/><circle cx="225.4" cy="349.5" r="0.6" fill="#3535b0"/><circle cx="224.2" cy="351.5" r="0.6" fill="#3535b0"/><circle cx="222.8" cy="353.4" r="0.6" fill="#3535b0"/><circle cx="221.4" cy="355.2" r="0.6" fill="#3535b0"/><circle cx="219.9" cy="357.0" r="0.6" fill="#3535b0"/><circle cx="218.3" cy="358.6" r="0.6" fill="#3535b0"/><circle cx="214.8" cy="361.7" r="0.6" fill="#3535b0"/><circle cx="212.9" cy="363.0" r="0.6" fill="#3535b0"/><circle cx="206.9" cy="366.4" r="0.6" fill="#3535b0"/><circle cx="200.3" cy="368.8" r="0.6" fill="#3535b0"/><circle cx="198.1" cy="369.3" r="0.6" fill="#3535b0"/><circle cx="195.8" cy="369.7" r="0.6" fill="#3535b0"/><circle cx="193.5" cy="370.0" r="0.6" fill="#3535b0"/><circle cx="191.2" cy="370.1" r="0.6" fill="#3535b0"/><circle cx="188.8" cy="370.1" r="0.6" fill="#3535b0"/><circle cx="186.5" cy="370.0" r="0.6" fill="#3535b0"/><circle cx="181.9" cy="369.3" r="0.6" fill="#3535b0"/><circle cx="179.7" cy="368.8" r="0.6" fill="#3535b0"/><circle cx="177.5" cy="368.1" r="0.6" fill="#3535b0"/><circle cx="175.3" cy="367.3" r="0.6" fill="#3535b0"/><circle cx="173.1" cy="366.4" r="0.6" fill="#3535b0"/><circle cx="171.1" cy="365.4" r="0.6" fill="#3535b0"/><circle cx="169.0" cy="364.3" r="0.6" fill="#3535b0"/><circle cx="167.1" cy="363.0" r="0.6" fill="#3535b0"/><circle cx="165.2" cy="361.7" r="0.6" fill="#3535b0"/><circle cx="163.4" cy="360.2" r="0.6" fill="#3535b0"/><circle cx="161.7" cy="358.6" r="0.6" fill="#3535b0"/><circle cx="160.1" cy="357.0" r="0.6" fill="#3535b0"/><circle cx="158.6" cy="355.2" r="0.6" fill="#3535b0"/><circle cx="157.2" cy="353.4" r="0.6" fill="#3535b0"/><circle cx="154.6" cy="349.5" r="0.6" fill="#3535b0"/><circle cx="153.6" cy="347.4" r="0.6" fill="#3535b0"/><circle cx="152.6" cy="345.3" r="0.6" fill="#3535b0"/><circle cx="151.8" cy="343.1" r="0.6" fill="#3535b0"/><circle cx="151.0" cy="340.9" r="0.6" fill="#3535b0"/><circle cx="150.0" cy="336.4" r="0.6" fill="#3535b0"/><circle cx="149.7" cy="334.1" r="0.6" fill="#3535b0"/><circle cx="149.5" cy="331.8" r="0.6" fill="#3535b0"/><circle cx="149.4" cy="329.5" r="0.6" fill="#3535b0"/><circle cx="149.5" cy="327.2" r="0.6" fill="#3535b0"/><circle cx="149.7" cy="324.9" r="0.6" fill="#3535b0"/><circle cx="150.5" cy="320.3" r="0.6" fill="#3535b0"/><circle cx="151.0" cy="318.1" r="0.6" fill="#3535b0"/><circle cx="151.8" cy="315.9" r="0.6" fill="#3535b0"/><circle cx="152.6" cy="313.7" r="0.6" fill="#3535b0"/><circle cx="153.6" cy="311.6" r="0.6" fill="#3535b0"/><circle cx="154.6" cy="309.5" r="0.6" fill="#3535b0"/><circle cx="157.2" cy="305.6" r="0.6" fill="#3535b0"/><circle cx="158.6" cy="303.8" r="0.6" fill="#3535b0"/><circle cx="160.1" cy="302.0" r="0.6" fill="#3535b0"/><circle cx="161.7" cy="300.4" r="0.6" fill="#3535b0"/><circle cx="165.2" cy="297.3" r="0.6" fill="#3535b0"/><circle cx="169.0" cy="294.7" r="0.6" fill="#3535b0"/><circle cx="171.1" cy="293.6" r="0.6" fill="#3535b0"/><circle cx="173.1" cy="292.6" r="0.6" fill="#3535b0"/><circle cx="175.3" cy="291.7" r="0.6" fill="#3535b0"/><circle cx="177.5" cy="290.9" r="0.6" fill="#3535b0"/><circle cx="179.7" cy="290.2" r="0.6" fill="#3535b0"/><circle cx="181.9" cy="289.7" r="0.6" fill="#3535b0"/><circle cx="184.2" cy="289.3" r="0.6" fill="#3535b0"/><circle cx="186.5" cy="289.0" r="0.6" fill="#3535b0"/><circle cx="188.8" cy="288.9" r="0.6" fill="#3535b0"/><circle cx="191.2" cy="288.9" r="0.6" fill="#3535b0"/><circle cx="193.5" cy="289.0" r="0.6" fill="#3535b0"/><circle cx="198.1" cy="289.7" r="0.6" fill="#3535b0"/><circle cx="200.3" cy="290.2" r="0.6" fill="#3535b0"/><circle cx="204.7" cy="291.7" r="0.6" fill="#3535b0"/><circle cx="206.9" cy="292.6" r="0.6" fill="#3535b0"/><circle cx="208.9" cy="293.6" r="0.6" fill="#3535b0"/><circle cx="211.0" cy="294.7" r="0.6" fill="#3535b0"/><circle cx="212.9" cy="296.0" r="0.6" fill="#3535b0"/><circle cx="214.8" cy="297.3" r="0.6" fill="#3535b0"/><circle cx="216.6" cy="298.8" r="0.6" fill="#3535b0"/><circle cx="218.3" cy="300.4" r="0.6" fill="#3535b0"/><circle cx="219.9" cy="302.0" r="0.6" fill="#3535b0"/><circle cx="221.4" cy="303.8" r="0.6" fill="#3535b0"/><circle cx="222.8" cy="305.6" r="0.6" fill="#3535b0"/><circle cx="225.4" cy="309.5" r="0.6" fill="#3535b0"/><circle cx="226.4" cy="311.6" r="0.6" fill="#3535b0"/><circle cx="227.4" cy="313.7" r="0.6" fill="#3535b0"/><circle cx="228.2" cy="315.9" r="0.6" fill="#3535b0"/><circle cx="229.0" cy="318.1" r="0.6" fill="#3535b0"/><circle cx="229.5" cy="320.3" r="0.6" fill="#3535b0"/><circle cx="230.0" cy="322.6" r="0.6" fill="#3535b0"/><circle cx="230.3" cy="324.9" r="0.6" fill="#3535b0"/>
<circle cx="190" cy="329.5" r="28.6" fill="#0c0920"/>
<g fill="none"><path d="M197.1 302.1Q190.1 329.5 207.3 351.9" stroke="#f5a040" stroke-width="0.69" opacity="0.58"/><path d="M213.9 314.3Q190.1 329.6 162.7 337.0" stroke="#f7c050" stroke-width="0.53" opacity="0.77"/><path d="M165.6 315.2Q190.2 324.1 215.6 317.3" stroke="#f7c050" stroke-width="0.75" opacity="0.57"/><path d="M167.7 312.0Q187.1 331.6 200.5 355.8" stroke="#e87838" stroke-width="0.64" opacity="0.85"/><path d="M170.5 309.0Q190.5 329.3 187.0 357.6" stroke="#e86090" stroke-width="0.69" opacity="0.82"/><path d="M173.4 306.6Q186.3 330.4 185.1 357.4" stroke="#e87838" stroke-width="0.64" opacity="0.71"/><path d="M205.0 305.5Q193.5 329.9 199.0 356.3" stroke="#e87838" stroke-width="0.51" opacity="0.81"/><path d="M169.5 349.0Q190.0 339.2 210.3 349.2" stroke="#e87838" stroke-width="0.71" opacity="0.55"/><path d="M163.3 338.9Q190.0 329.6 218.3 327.8" stroke="#f09038" stroke-width="0.69" opacity="0.84"/><path d="M214.2 314.8Q195.0 331.1 201.1 355.5" stroke="#f7c050" stroke-width="0.56" opacity="0.56"/><path d="M167.1 346.1Q190.3 328.5 199.6 356.1" stroke="#e8a040" stroke-width="0.57" opacity="0.55"/><path d="M191.2 357.8Q193.7 330.2 201.9 303.8" stroke="#f5b050" stroke-width="0.63" opacity="0.60"/><path d="M161.9 333.0Q190.0 329.5 217.8 324.4" stroke="#f5a040" stroke-width="0.81" opacity="0.89"/><path d="M216.2 318.9Q203.6 332.3 209.9 349.7" stroke="#f5b050" stroke-width="0.70" opacity="0.52"/><path d="M161.7 328.6Q189.5 330.7 210.3 349.2" stroke="#f5a040" stroke-width="0.52" opacity="0.67"/><path d="M200.1 303.1Q189.9 329.4 163.9 340.6" stroke="#f5b050" stroke-width="0.73" opacity="0.78"/><path d="M182.0 302.4Q193.3 325.4 218.2 331.7" stroke="#e87838" stroke-width="0.71" opacity="0.61"/><path d="M218.1 326.1Q190.4 330.7 165.0 342.7" stroke="#e86090" stroke-width="0.52" opacity="0.82"/><path d="M161.9 332.8Q190.0 329.3 218.0 325.2" stroke="#f7c050" stroke-width="0.85" opacity="0.63"/><path d="M183.7 301.9Q190.7 330.2 162.7 322.1" stroke="#40b0a0" stroke-width="0.71" opacity="0.72"/><path d="M197.0 302.1Q190.0 329.5 163.0 321.0" stroke="#40b0a0" stroke-width="0.73" opacity="0.77"/><path d="M208.0 351.3Q190.0 328.0 171.5 350.9" stroke="#f09038" stroke-width="0.79" opacity="0.68"/><path d="M201.5 355.4Q190.5 327.8 165.9 344.3" stroke="#f5b050" stroke-width="0.66" opacity="0.77"/><path d="M171.6 308.0Q181.7 328.5 167.1 346.1" stroke="#e86090" stroke-width="0.65" opacity="0.70"/><path d="M174.5 305.9Q190.2 329.4 198.2 356.6" stroke="#e87838" stroke-width="0.58" opacity="0.70"/><path d="M217.3 336.9Q194.1 338.6 177.6 355.0" stroke="#f5a040" stroke-width="0.84" opacity="0.59"/><path d="M176.3 304.8Q189.8 329.6 209.3 350.2" stroke="#40b0a0" stroke-width="0.81" opacity="0.69"/><path d="M176.6 354.4Q187.8 329.6 174.5 305.9" stroke="#f5a040" stroke-width="0.58" opacity="0.82"/><path d="M192.2 357.7Q189.3 329.9 165.7 314.9" stroke="#e8a040" stroke-width="0.76" opacity="0.90"/><path d="M212.4 346.7Q190.2 329.3 173.1 306.8" stroke="#f0b048" stroke-width="0.66" opacity="0.61"/><path d="M207.5 351.8Q189.6 329.5 206.6 306.6" stroke="#40b0a0" stroke-width="0.57" opacity="0.56"/><path d="M215.6 317.5Q191.8 330.5 193.2 357.6" stroke="#e86090" stroke-width="0.47" opacity="0.86"/><path d="M164.8 342.5Q187.9 329.5 164.4 317.5" stroke="#f0b048" stroke-width="0.74" opacity="0.79"/><path d="M200.6 303.3Q192.2 327.6 217.4 322.3" stroke="#40b0a0" stroke-width="0.51" opacity="0.79"/><path d="M170.4 309.1Q192.3 325.2 217.8 335.1" stroke="#f5a040" stroke-width="0.56" opacity="0.67"/><path d="M217.6 323.1Q195.8 330.9 211.6 347.8" stroke="#e86090" stroke-width="0.83" opacity="0.69"/><path d="M180.0 356.0Q190.6 330.5 218.3 330.9" stroke="#f5b050" stroke-width="0.49" opacity="0.73"/><path d="M172.2 307.5Q189.9 329.6 206.9 352.2" stroke="#f7c050" stroke-width="0.72" opacity="0.77"/><path d="M162.0 325.7Q190.0 329.5 215.4 317.0" stroke="#f5a040" stroke-width="0.46" opacity="0.75"/><path d="M165.8 344.2Q187.4 334.4 191.0 357.8" stroke="#f0b048" stroke-width="0.54" opacity="0.63"/><path d="M161.7 330.8Q184.6 323.0 196.4 301.9" stroke="#40b0a0" stroke-width="0.55" opacity="0.61"/><path d="M168.8 310.8Q183.2 328.1 163.1 338.2" stroke="#e86090" stroke-width="0.62" opacity="0.77"/><path d="M162.3 335.1Q189.5 329.3 173.3 306.6" stroke="#f7c050" stroke-width="0.62" opacity="0.83"/><path d="M166.4 313.8Q189.9 328.4 211.4 311.0" stroke="#f09038" stroke-width="0.76" opacity="0.67"/><path d="M194.8 357.4Q199.3 339.7 217.3 337.1" stroke="#f5a040" stroke-width="0.65" opacity="0.81"/><path d="M208.8 350.6Q201.7 332.9 217.2 321.8" stroke="#40b0a0" stroke-width="0.50" opacity="0.69"/><path d="M215.5 341.9Q189.7 330.3 162.9 321.4" stroke="#e8a040" stroke-width="0.78" opacity="0.87"/><path d="M185.9 301.5Q191.0 327.5 215.0 316.3" stroke="#f5a040" stroke-width="0.60" opacity="0.62"/><path d="M161.9 326.1Q188.5 331.4 199.6 356.1" stroke="#e86090" stroke-width="0.79" opacity="0.65"/><path d="M166.0 344.5Q190.4 330.7 218.2 327.1" stroke="#f7c050" stroke-width="0.69" opacity="0.80"/><path d="M215.8 317.9Q202.6 330.7 213.1 345.9" stroke="#f09038" stroke-width="0.76" opacity="0.86"/><path d="M164.6 341.9Q190.3 330.3 216.8 320.3" stroke="#f5a040" stroke-width="0.74" opacity="0.67"/><path d="M199.7 356.1Q190.2 329.2 161.7 330.4" stroke="#f5a040" stroke-width="0.60" opacity="0.63"/><path d="M194.0 357.5Q188.4 331.6 161.9 332.5" stroke="#f5a040" stroke-width="0.65" opacity="0.57"/><path d="M211.1 310.7Q189.6 331.0 180.0 303.0" stroke="#40b0a0" stroke-width="0.58" opacity="0.53"/><path d="M161.7 330.0Q190.8 329.0 176.0 354.1" stroke="#e86090" stroke-width="0.69" opacity="0.70"/><path d="M161.8 331.7Q189.1 332.0 210.8 348.7" stroke="#f5b050" stroke-width="0.63" opacity="0.82"/><path d="M215.6 317.5Q189.6 327.1 161.9 326.1" stroke="#e86090" stroke-width="0.69" opacity="0.54"/><path d="M190.9 301.2Q189.6 329.5 187.1 357.7" stroke="#e87838" stroke-width="0.58" opacity="0.60"/><path d="M217.9 334.1Q197.2 335.2 201.2 355.5" stroke="#e8a040" stroke-width="0.83" opacity="0.77"/><path d="M211.8 311.5Q195.8 329.6 211.2 348.2" stroke="#f5a040" stroke-width="0.85" opacity="0.57"/><path d="M165.3 315.7Q189.3 330.1 201.2 355.5" stroke="#f7c050" stroke-width="0.69" opacity="0.78"/><path d="M208.2 351.1Q192.0 329.6 210.4 309.9" stroke="#e87838" stroke-width="0.61" opacity="0.68"/><path d="M184.3 301.8Q189.3 330.0 214.2 344.1" stroke="#f5a040" stroke-width="0.71" opacity="0.69"/><path d="M163.8 318.8Q189.4 330.1 202.9 354.7" stroke="#f09038" stroke-width="0.77" opacity="0.53"/><path d="M212.5 346.7Q189.1 331.3 162.6 322.6" stroke="#f09038" stroke-width="0.79" opacity="0.89"/><path d="M161.7 330.1Q189.8 328.4 216.4 319.4" stroke="#e8a040" stroke-width="0.58" opacity="0.76"/><path d="M188.7 357.8Q198.0 338.3 218.3 330.7" stroke="#e86090" stroke-width="0.70" opacity="0.58"/><path d="M216.7 320.3Q190.5 326.3 167.0 313.1" stroke="#e86090" stroke-width="0.48" opacity="0.61"/><path d="M170.1 309.4Q189.7 329.7 199.6 356.1" stroke="#f5a040" stroke-width="0.60" opacity="0.55"/><path d="M191.7 301.3Q195.2 326.1 216.5 339.5" stroke="#e86090" stroke-width="0.48" opacity="0.80"/><path d="M212.9 346.1Q190.0 329.5 168.8 310.8" stroke="#e87838" stroke-width="0.84" opacity="0.59"/><path d="M186.6 301.4Q191.2 329.2 201.1 355.5" stroke="#f5a040" stroke-width="0.49" opacity="0.56"/><path d="M161.8 332.2Q188.9 326.8 211.9 311.6" stroke="#40b0a0" stroke-width="0.46" opacity="0.56"/><path d="M208.5 308.1Q190.0 329.5 162.7 336.9" stroke="#f5a040" stroke-width="0.60" opacity="0.51"/><path d="M203.6 354.3Q187.7 331.9 164.4 317.4" stroke="#f5a040" stroke-width="0.64" opacity="0.67"/><path d="M194.1 357.5Q193.7 331.9 217.3 321.9" stroke="#f5a040" stroke-width="0.84" opacity="0.55"/><path d="M185.1 301.6Q183.3 322.2 162.6 322.3" stroke="#e86090" stroke-width="0.80" opacity="0.58"/><path d="M200.0 303.0Q188.9 329.0 176.0 354.1" stroke="#e8a040" stroke-width="0.58" opacity="0.86"/><path d="M166.0 344.4Q187.9 329.3 168.4 311.2" stroke="#f09038" stroke-width="0.50" opacity="0.77"/><path d="M215.6 341.6Q190.0 329.5 202.3 304.0" stroke="#f7c050" stroke-width="0.81" opacity="0.87"/><path d="M163.9 340.4Q188.8 332.6 202.2 355.0" stroke="#e87838" stroke-width="0.60" opacity="0.89"/><path d="M200.1 355.9Q199.9 335.6 218.1 326.5" stroke="#f5a040" stroke-width="0.57" opacity="0.51"/><path d="M165.8 344.1Q189.5 332.6 208.6 350.8" stroke="#e87838" stroke-width="0.58" opacity="0.55"/><path d="M167.4 312.5Q187.7 324.8 190.8 301.2" stroke="#f7c050" stroke-width="0.47" opacity="0.50"/><path d="M170.1 349.6Q186.5 328.7 181.5 302.5" stroke="#f09038" stroke-width="0.63" opacity="0.53"/><path d="M209.4 308.9Q198.8 329.7 208.3 351.1" stroke="#f5a040" stroke-width="0.77" opacity="0.73"/><path d="M171.7 307.9Q188.3 330.5 201.2 355.5" stroke="#f09038" stroke-width="0.78" opacity="0.69"/><path d="M212.6 312.5Q190.8 324.0 173.1 306.8" stroke="#f7c050" stroke-width="0.69" opacity="0.84"/><path d="M181.5 302.5Q189.9 329.6 211.4 348.1" stroke="#f09038" stroke-width="0.73" opacity="0.69"/><path d="M186.3 357.6Q185.4 330.3 177.1 304.3" stroke="#40b0a0" stroke-width="0.69" opacity="0.59"/><path d="M199.9 356.0Q199.9 336.6 218.3 330.3" stroke="#f09038" stroke-width="0.74" opacity="0.65"/><path d="M162.1 334.1Q189.7 330.5 212.1 347.1" stroke="#e87838" stroke-width="0.64" opacity="0.51"/><path d="M218.1 332.9Q195.3 323.0 180.9 302.7" stroke="#e86090" stroke-width="0.51" opacity="0.87"/><path d="M187.9 357.7Q190.2 329.4 173.5 306.5" stroke="#e8a040" stroke-width="0.56" opacity="0.58"/></g>
  </g>
  <g clip-path="url(#cp3)">
<defs><radialGradient id="sb" cx="0.35" cy="0.35" r="0.7"><stop offset="0" stop-color="#9cc0ff"/><stop offset="0.5" stop-color="#5a88e8"/><stop offset="1" stop-color="#2f58c0"/></radialGradient><radialGradient id="sb2" cx="0.35" cy="0.35" r="0.7"><stop offset="0" stop-color="#80a8f8"/><stop offset="0.5" stop-color="#4a78e0"/><stop offset="1" stop-color="#2448a8"/></radialGradient><radialGradient id="sp" cx="0.35" cy="0.35" r="0.7"><stop offset="0" stop-color="#b488e8"/><stop offset="1" stop-color="#7048b8"/></radialGradient><radialGradient id="so" cx="0.35" cy="0.35" r="0.7"><stop offset="0" stop-color="#ffa860"/><stop offset="1" stop-color="#d06a30"/></radialGradient></defs>
<rect x="350" y="270" width="120" height="120" fill="#0a1326"/>
<polygon points="403.6,279.5 409.9,282.2 413.5,286.7 417.1,292.1 427.0,295.7 434.2,300.2 438.2,305.6 440.5,313.7 444.6,320.0 445.9,332.6 444.1,345.2 439.6,352.4 436.9,359.6 433.3,366.8 427.0,373.1 382.0,373.1 373.0,366.8 367.6,357.8 362.2,347.0 360.8,336.2 364.0,325.4 371.2,319.1 376.2,315.0 374.8,303.8 385.6,300.2 388.3,293.0 391.9,287.6 398.2,282.2" fill="#1c3278"/>
<polygon points="374.8,303.8 400.0,302.0 403.6,313.7 380.2,313.7" fill="#7a4cc0"/>
<polygon points="377.5,311.0 398.2,310.1 405.4,318.2 403.6,325.4 385.6,324.5 378.4,318.2" fill="#d87a40"/>
<circle cx="406.2" cy="280.8" r="2.2" fill="url(#sb2)"/><circle cx="402.6" cy="282.8" r="2.9" fill="url(#sb)"/><circle cx="398.6" cy="283.9" r="2.9" fill="url(#sb2)"/><circle cx="402.8" cy="284.2" r="2.1" fill="url(#sb)"/><circle cx="410.6" cy="285.2" r="2.7" fill="url(#sb)"/><circle cx="404.3" cy="285.9" r="2.3" fill="url(#sb)"/><circle cx="395.9" cy="285.9" r="2.3" fill="url(#sb2)"/><circle cx="397.6" cy="286.6" r="2.3" fill="url(#sb)"/><circle cx="407.6" cy="287.5" r="2.4" fill="url(#sb)"/><circle cx="410.8" cy="288.8" r="2.6" fill="url(#sb2)"/><circle cx="393.7" cy="289.0" r="2.7" fill="url(#sb)"/><circle cx="409.5" cy="289.0" r="2.2" fill="url(#sb)"/><circle cx="412.4" cy="289.4" r="2.3" fill="url(#sb)"/><circle cx="390.3" cy="290.3" r="2.2" fill="url(#sb2)"/><circle cx="401.2" cy="290.4" r="2.8" fill="url(#sb2)"/><circle cx="411.1" cy="290.7" r="2.9" fill="url(#sb)"/><circle cx="390.2" cy="290.9" r="2.4" fill="url(#sb2)"/><circle cx="414.5" cy="291.1" r="2.4" fill="url(#sb)"/><circle cx="416.3" cy="292.0" r="2.2" fill="url(#sb2)"/><circle cx="401.4" cy="292.3" r="3.0" fill="url(#sb)"/><circle cx="398.0" cy="292.3" r="2.3" fill="url(#sb2)"/><circle cx="411.5" cy="292.4" r="2.5" fill="url(#sb)"/><circle cx="402.5" cy="293.1" r="2.8" fill="url(#sb)"/><circle cx="416.7" cy="293.2" r="2.3" fill="url(#sb)"/><circle cx="412.6" cy="293.8" r="2.2" fill="url(#sb)"/><circle cx="392.6" cy="293.8" r="2.4" fill="url(#sb)"/><circle cx="405.6" cy="293.9" r="3.0" fill="url(#sb2)"/><circle cx="390.1" cy="294.6" r="2.4" fill="url(#sb)"/><circle cx="393.5" cy="294.9" r="2.5" fill="url(#sb)"/><circle cx="423.0" cy="294.9" r="2.5" fill="url(#sb)"/><circle cx="390.0" cy="295.3" r="2.3" fill="url(#sb2)"/><circle cx="420.9" cy="295.3" r="2.5" fill="url(#sb)"/><circle cx="394.0" cy="295.4" r="2.4" fill="url(#sb)"/><circle cx="425.8" cy="295.6" r="3.0" fill="url(#sb)"/><circle cx="395.1" cy="295.7" r="3.0" fill="url(#sb2)"/><circle cx="412.5" cy="296.0" r="2.8" fill="url(#sb)"/><circle cx="422.2" cy="296.2" r="3.1" fill="url(#sb)"/><circle cx="413.1" cy="296.5" r="2.3" fill="url(#sb)"/><circle cx="406.2" cy="296.6" r="2.9" fill="url(#sb2)"/><circle cx="394.9" cy="296.8" r="2.9" fill="url(#sb)"/><circle cx="400.2" cy="296.9" r="2.6" fill="url(#sb)"/><circle cx="387.4" cy="296.9" r="3.0" fill="url(#sb)"/><circle cx="421.5" cy="297.0" r="2.8" fill="url(#sb)"/><circle cx="402.4" cy="297.0" r="2.7" fill="url(#sb)"/><circle cx="389.7" cy="297.2" r="2.7" fill="url(#sb)"/><circle cx="428.9" cy="297.6" r="2.3" fill="url(#sb2)"/><circle cx="427.5" cy="297.6" r="2.9" fill="url(#sb2)"/><circle cx="402.1" cy="297.6" r="2.6" fill="url(#sb)"/><circle cx="406.0" cy="297.7" r="2.4" fill="url(#sb2)"/><circle cx="407.7" cy="297.9" r="2.8" fill="url(#sb)"/><circle cx="394.3" cy="298.1" r="2.8" fill="url(#sb)"/><circle cx="386.7" cy="298.2" r="2.6" fill="url(#sb)"/><circle cx="387.9" cy="298.3" r="2.8" fill="url(#sb)"/><circle cx="394.7" cy="298.6" r="2.3" fill="url(#sb)"/><circle cx="390.4" cy="298.7" r="2.3" fill="url(#sb2)"/><circle cx="397.6" cy="299.1" r="2.2" fill="url(#sb)"/><circle cx="388.3" cy="299.1" r="2.6" fill="url(#sb)"/><circle cx="400.6" cy="299.6" r="2.9" fill="url(#sb)"/><circle cx="425.3" cy="300.2" r="3.1" fill="url(#sb)"/><circle cx="422.6" cy="301.1" r="2.4" fill="url(#sb2)"/><circle cx="429.8" cy="301.2" r="2.3" fill="url(#sb)"/><circle cx="404.0" cy="302.0" r="2.9" fill="url(#sb)"/><circle cx="401.8" cy="302.0" r="2.4" fill="url(#sp)"/><circle cx="385.1" cy="302.1" r="3.0" fill="url(#sb)"/><circle cx="409.4" cy="302.2" r="2.8" fill="url(#sb)"/><circle cx="386.4" cy="302.2" r="2.4" fill="url(#sb)"/><circle cx="411.7" cy="302.3" r="2.2" fill="url(#sb)"/><circle cx="403.7" cy="302.7" r="3.0" fill="url(#sb)"/><circle cx="417.3" cy="302.7" r="3.0" fill="url(#sb)"/><circle cx="429.1" cy="303.2" r="2.2" fill="url(#sb)"/><circle cx="413.2" cy="303.5" r="2.8" fill="url(#sb)"/><circle cx="391.4" cy="303.7" r="2.5" fill="url(#sb)"/><circle cx="383.8" cy="304.0" r="2.1" fill="url(#sp)"/><circle cx="414.7" cy="304.0" r="2.6" fill="url(#sb)"/><circle cx="418.0" cy="304.1" r="2.6" fill="url(#sb)"/><circle cx="420.1" cy="304.2" r="2.8" fill="url(#sb2)"/><circle cx="412.5" cy="304.3" r="2.6" fill="url(#sb)"/><circle cx="411.4" cy="304.6" r="2.3" fill="url(#sb)"/><circle cx="416.1" cy="304.8" r="3.0" fill="url(#sb)"/><circle cx="376.3" cy="304.9" r="2.9" fill="url(#sb2)"/><circle cx="434.7" cy="305.2" r="2.3" fill="url(#sb)"/><circle cx="416.1" cy="305.3" r="3.1" fill="url(#sb)"/><circle cx="388.1" cy="305.3" r="2.1" fill="url(#sb2)"/><circle cx="409.9" cy="305.5" r="2.2" fill="url(#sb2)"/><circle cx="432.6" cy="305.7" r="3.1" fill="url(#sb)"/><circle cx="383.3" cy="305.8" r="2.4" fill="url(#sp)"/><circle cx="405.2" cy="305.9" r="2.4" fill="url(#sb)"/><circle cx="432.4" cy="306.2" r="2.5" fill="url(#sb)"/><circle cx="420.8" cy="306.2" r="2.9" fill="url(#sb)"/><circle cx="422.8" cy="306.4" r="2.6" fill="url(#sb)"/><circle cx="427.5" cy="306.6" r="2.2" fill="url(#sb2)"/><circle cx="427.8" cy="306.7" r="2.9" fill="url(#sb)"/><circle cx="428.3" cy="306.8" r="2.9" fill="url(#sb)"/><circle cx="375.2" cy="306.9" r="2.8" fill="url(#sb)"/><circle cx="391.6" cy="307.0" r="2.1" fill="url(#sp)"/><circle cx="424.8" cy="307.1" r="2.4" fill="url(#sb)"/><circle cx="433.8" cy="307.2" r="3.0" fill="url(#sb2)"/><circle cx="428.4" cy="307.3" r="2.6" fill="url(#sb)"/><circle cx="375.9" cy="307.3" r="1.8" fill="url(#sp)"/><circle cx="416.5" cy="307.4" r="2.6" fill="url(#sb2)"/><circle cx="386.4" cy="307.4" r="2.2" fill="url(#sb)"/><circle cx="384.4" cy="307.4" r="1.9" fill="url(#sp)"/><circle cx="383.5" cy="307.5" r="1.8" fill="url(#sp)"/><circle cx="399.9" cy="308.1" r="1.8" fill="url(#sp)"/><circle cx="421.2" cy="308.2" r="2.1" fill="url(#sb)"/><circle cx="435.1" cy="308.2" r="2.5" fill="url(#sb2)"/><circle cx="396.9" cy="308.4" r="2.5" fill="url(#sb)"/><circle cx="403.8" cy="308.4" r="2.4" fill="url(#sb)"/><circle cx="432.6" cy="308.5" r="3.0" fill="url(#sb2)"/><circle cx="420.7" cy="308.7" r="2.4" fill="url(#sb2)"/><circle cx="392.7" cy="308.7" r="2.5" fill="url(#sb2)"/><circle cx="411.6" cy="308.8" r="2.5" fill="url(#sb)"/><circle cx="387.2" cy="309.0" r="2.4" fill="url(#sp)"/><circle cx="418.1" cy="309.5" r="2.3" fill="url(#sb)"/><circle cx="381.2" cy="309.5" r="2.1" fill="url(#sp)"/><circle cx="405.2" cy="309.6" r="3.1" fill="url(#sb)"/><circle cx="422.5" cy="309.9" r="3.0" fill="url(#sb2)"/><circle cx="438.4" cy="310.0" r="2.7" fill="url(#sb)"/><circle cx="438.3" cy="310.0" r="2.4" fill="url(#sb2)"/><circle cx="392.6" cy="310.1" r="2.2" fill="url(#sb)"/><circle cx="438.3" cy="310.1" r="2.4" fill="url(#sb)"/><circle cx="388.2" cy="310.1" r="2.3" fill="url(#so)"/><circle cx="420.4" cy="310.7" r="2.2" fill="url(#sb)"/><circle cx="420.6" cy="311.2" r="2.2" fill="url(#sb2)"/><circle cx="429.5" cy="311.2" r="2.3" fill="url(#sb)"/><circle cx="383.8" cy="311.3" r="2.0" fill="url(#so)"/><circle cx="433.1" cy="311.6" r="2.1" fill="url(#sb)"/><circle cx="425.8" cy="311.7" r="2.1" fill="url(#sb)"/><circle cx="378.9" cy="311.7" r="2.5" fill="url(#so)"/><circle cx="430.8" cy="311.9" r="2.6" fill="url(#sb)"/><circle cx="381.6" cy="312.1" r="2.4" fill="url(#so)"/><circle cx="382.6" cy="312.4" r="2.2" fill="url(#so)"/><circle cx="440.2" cy="312.9" r="2.5" fill="url(#sb)"/><circle cx="408.2" cy="312.9" r="2.6" fill="url(#sb)"/><circle cx="425.3" cy="313.0" r="2.8" fill="url(#sb)"/><circle cx="412.3" cy="313.0" r="3.0" fill="url(#sb)"/><circle cx="405.5" cy="313.1" r="2.6" fill="url(#sb)"/><circle cx="439.2" cy="313.3" r="2.2" fill="url(#sb2)"/><circle cx="389.2" cy="313.6" r="1.7" fill="url(#so)"/><circle cx="392.1" cy="313.7" r="2.1" fill="url(#so)"/><circle cx="379.2" cy="313.7" r="2.4" fill="url(#so)"/><circle cx="397.7" cy="313.8" r="2.1" fill="url(#so)"/><circle cx="409.5" cy="313.8" r="2.7" fill="url(#sb2)"/><circle cx="398.4" cy="314.0" r="1.8" fill="url(#so)"/><circle cx="433.5" cy="314.1" r="2.5" fill="url(#sb)"/><circle cx="399.5" cy="314.1" r="2.9" fill="url(#sb2)"/><circle cx="381.1" cy="314.2" r="2.1" fill="url(#so)"/><circle cx="406.6" cy="314.7" r="2.2" fill="url(#sb)"/><circle cx="403.5" cy="314.9" r="2.4" fill="url(#so)"/><circle cx="387.8" cy="315.0" r="2.5" fill="url(#so)"/><circle cx="425.7" cy="315.1" r="2.3" fill="url(#sb)"/><circle cx="429.7" cy="315.3" r="2.9" fill="url(#sb)"/><circle cx="384.1" cy="315.3" r="2.1" fill="url(#so)"/><circle cx="428.2" cy="315.5" r="2.6" fill="url(#sb2)"/><circle cx="377.8" cy="315.6" r="1.8" fill="url(#so)"/><circle cx="387.8" cy="315.7" r="1.9" fill="url(#so)"/><circle cx="424.7" cy="316.0" r="3.0" fill="url(#sb2)"/><circle cx="392.1" cy="316.1" r="2.0" fill="url(#so)"/><circle cx="404.9" cy="316.1" r="1.7" fill="url(#so)"/><circle cx="403.8" cy="316.2" r="1.8" fill="url(#so)"/><circle cx="438.0" cy="316.3" r="2.4" fill="url(#sb)"/><circle cx="389.2" cy="316.7" r="2.1" fill="url(#so)"/><circle cx="375.2" cy="316.8" r="2.3" fill="url(#sb)"/><circle cx="377.5" cy="317.1" r="2.7" fill="url(#sb)"/><circle cx="429.6" cy="317.4" r="2.3" fill="url(#sb)"/><circle cx="428.3" cy="317.8" r="2.3" fill="url(#sb)"/><circle cx="436.7" cy="318.0" r="2.5" fill="url(#sb2)"/><circle cx="429.7" cy="318.1" r="2.4" fill="url(#sb)"/><circle cx="389.0" cy="318.2" r="2.1" fill="url(#so)"/><circle cx="401.9" cy="318.5" r="2.4" fill="url(#so)"/><circle cx="423.9" cy="318.6" r="2.7" fill="url(#sb)"/><circle cx="416.6" cy="318.8" r="3.0" fill="url(#sb)"/><circle cx="408.6" cy="318.8" r="2.1" fill="url(#sb)"/><circle cx="405.5" cy="318.9" r="2.4" fill="url(#sb)"/><circle cx="373.3" cy="319.1" r="2.8" fill="url(#sb)"/><circle cx="436.0" cy="319.1" r="2.5" fill="url(#sb2)"/><circle cx="392.2" cy="319.2" r="2.2" fill="url(#so)"/><circle cx="389.8" cy="319.3" r="1.7" fill="url(#so)"/><circle cx="403.9" cy="319.5" r="1.8" fill="url(#so)"/><circle cx="401.6" cy="319.6" r="1.9" fill="url(#so)"/><circle cx="408.8" cy="319.8" r="2.7" fill="url(#sb)"/><circle cx="389.3" cy="319.8" r="2.1" fill="url(#so)"/><circle cx="438.1" cy="320.0" r="2.5" fill="url(#sb)"/><circle cx="375.6" cy="320.1" r="2.5" fill="url(#sb)"/><circle cx="425.9" cy="320.4" r="2.8" fill="url(#sb)"/><circle cx="432.0" cy="320.4" r="2.4" fill="url(#sb2)"/><circle cx="406.9" cy="320.4" r="2.6" fill="url(#sb2)"/><circle cx="402.3" cy="320.5" r="2.2" fill="url(#so)"/><circle cx="377.4" cy="320.6" r="2.2" fill="url(#sb)"/><circle cx="412.8" cy="320.6" r="2.4" fill="url(#sb)"/><circle cx="412.5" cy="320.7" r="2.6" fill="url(#sb)"/><circle cx="412.5" cy="320.7" r="2.2" fill="url(#sb2)"/><circle cx="431.8" cy="320.9" r="2.2" fill="url(#sb)"/><circle cx="435.8" cy="321.1" r="3.0" fill="url(#sb2)"/><circle cx="406.5" cy="321.2" r="2.8" fill="url(#sb2)"/><circle cx="369.3" cy="321.5" r="2.7" fill="url(#sb)"/><circle cx="390.8" cy="321.6" r="2.3" fill="url(#so)"/><circle cx="423.0" cy="321.7" r="2.3" fill="url(#sb)"/><circle cx="382.0" cy="322.2" r="2.2" fill="url(#sb)"/><circle cx="433.3" cy="322.3" r="2.4" fill="url(#sb2)"/><circle cx="410.6" cy="322.4" r="2.8" fill="url(#sb2)"/><circle cx="412.2" cy="322.4" r="2.8" fill="url(#sb)"/><circle cx="412.1" cy="322.8" r="2.9" fill="url(#sb2)"/><circle cx="404.3" cy="323.1" r="1.8" fill="url(#so)"/><circle cx="439.0" cy="323.2" r="2.6" fill="url(#sb)"/><circle cx="429.9" cy="323.3" r="2.9" fill="url(#sb)"/><circle cx="368.5" cy="323.4" r="2.3" fill="url(#sb)"/><circle cx="432.7" cy="323.6" r="2.7" fill="url(#sb)"/><circle cx="443.1" cy="323.7" r="2.3" fill="url(#sb)"/><circle cx="444.5" cy="323.7" r="2.9" fill="url(#sb2)"/><circle cx="434.8" cy="323.7" r="2.9" fill="url(#sb)"/><circle cx="433.6" cy="323.9" r="2.5" fill="url(#sb)"/><circle cx="427.7" cy="324.0" r="2.4" fill="url(#sb)"/><circle cx="408.5" cy="324.1" r="2.8" fill="url(#sb2)"/><circle cx="426.7" cy="324.2" r="2.2" fill="url(#sb)"/><circle cx="383.5" cy="324.2" r="1.9" fill="url(#so)"/><circle cx="442.4" cy="324.4" r="2.9" fill="url(#sb)"/><circle cx="390.3" cy="324.4" r="1.7" fill="url(#so)"/><circle cx="385.5" cy="324.6" r="2.3" fill="url(#so)"/><circle cx="409.2" cy="324.7" r="2.2" fill="url(#sb)"/><circle cx="405.6" cy="325.0" r="2.9" fill="url(#sb)"/><circle cx="401.8" cy="325.4" r="2.6" fill="url(#sb)"/><circle cx="436.8" cy="325.9" r="2.3" fill="url(#sb)"/><circle cx="429.0" cy="325.9" r="2.2" fill="url(#sb2)"/><circle cx="367.6" cy="325.9" r="3.1" fill="url(#sb)"/><circle cx="371.0" cy="325.9" r="2.8" fill="url(#sb)"/><circle cx="443.3" cy="326.4" r="2.5" fill="url(#sb)"/><circle cx="375.4" cy="326.5" r="2.7" fill="url(#sb)"/><circle cx="386.4" cy="326.5" r="2.5" fill="url(#sb)"/><circle cx="426.7" cy="326.9" r="2.8" fill="url(#sb)"/><circle cx="398.2" cy="327.0" r="2.8" fill="url(#sb)"/><circle cx="364.9" cy="327.2" r="2.6" fill="url(#sb)"/><circle cx="384.1" cy="327.3" r="2.7" fill="url(#sb2)"/><circle cx="391.3" cy="327.4" r="2.7" fill="url(#sb2)"/><circle cx="396.2" cy="327.6" r="2.3" fill="url(#sb)"/><circle cx="434.6" cy="327.6" r="2.4" fill="url(#sb)"/><circle cx="401.7" cy="327.7" r="2.2" fill="url(#sp)"/><circle cx="400.2" cy="327.7" r="2.7" fill="url(#sb)"/><circle cx="385.0" cy="327.8" r="2.5" fill="url(#sb)"/><circle cx="387.6" cy="327.9" r="2.5" fill="url(#sb2)"/><circle cx="422.6" cy="328.0" r="2.5" fill="url(#sb)"/><circle cx="371.2" cy="328.3" r="2.4" fill="url(#sb2)"/><circle cx="406.8" cy="328.3" r="2.2" fill="url(#sb)"/><circle cx="392.7" cy="328.7" r="2.7" fill="url(#sb2)"/><circle cx="401.7" cy="328.8" r="3.0" fill="url(#sb)"/><circle cx="371.9" cy="328.8" r="2.7" fill="url(#sb)"/><circle cx="385.3" cy="329.0" r="2.5" fill="url(#sb2)"/><circle cx="377.4" cy="329.1" r="2.9" fill="url(#sb)"/><circle cx="406.3" cy="329.2" r="1.8" fill="url(#sp)"/><circle cx="418.5" cy="329.3" r="2.2" fill="url(#sb)"/><circle cx="377.0" cy="329.3" r="3.1" fill="url(#sb)"/><circle cx="369.1" cy="329.4" r="3.0" fill="url(#sb2)"/><circle cx="401.7" cy="329.6" r="2.4" fill="url(#sp)"/><circle cx="394.5" cy="329.6" r="2.7" fill="url(#sb)"/><circle cx="405.8" cy="329.8" r="2.5" fill="url(#sb)"/><circle cx="387.8" cy="329.9" r="2.5" fill="url(#sb)"/><circle cx="381.0" cy="330.0" r="2.5" fill="url(#sb)"/><circle cx="409.9" cy="330.1" r="2.7" fill="url(#sb)"/><circle cx="410.4" cy="330.2" r="2.7" fill="url(#sb)"/><circle cx="405.4" cy="330.4" r="1.7" fill="url(#sp)"/><circle cx="410.0" cy="330.5" r="2.6" fill="url(#sb)"/><circle cx="410.9" cy="330.7" r="2.4" fill="url(#sb2)"/><circle cx="398.9" cy="330.7" r="2.5" fill="url(#sb)"/><circle cx="371.7" cy="331.0" r="2.7" fill="url(#sb)"/><circle cx="432.7" cy="331.0" r="3.0" fill="url(#sb)"/><circle cx="364.2" cy="331.2" r="2.8" fill="url(#sb2)"/><circle cx="439.4" cy="331.3" r="2.2" fill="url(#sb)"/><circle cx="407.3" cy="331.5" r="2.5" fill="url(#sb)"/><circle cx="421.8" cy="331.6" r="2.5" fill="url(#sb)"/><circle cx="421.2" cy="331.6" r="2.4" fill="url(#sb2)"/><circle cx="437.9" cy="331.9" r="2.4" fill="url(#sb2)"/><circle cx="398.6" cy="332.0" r="2.3" fill="url(#sb)"/><circle cx="402.1" cy="332.1" r="1.9" fill="url(#sp)"/><circle cx="406.0" cy="332.3" r="1.8" fill="url(#sp)"/><circle cx="376.5" cy="332.6" r="2.6" fill="url(#sb)"/><circle cx="405.6" cy="332.8" r="1.7" fill="url(#sp)"/><circle cx="425.8" cy="332.9" r="2.9" fill="url(#sb)"/><circle cx="442.8" cy="332.9" r="2.1" fill="url(#sb)"/><circle cx="395.7" cy="333.1" r="2.2" fill="url(#sb)"/><circle cx="408.9" cy="333.1" r="1.7" fill="url(#sp)"/><circle cx="402.7" cy="333.3" r="2.4" fill="url(#sb)"/><circle cx="442.7" cy="333.3" r="2.9" fill="url(#sb)"/><circle cx="431.7" cy="333.3" r="2.7" fill="url(#sb)"/><circle cx="434.0" cy="333.5" r="2.3" fill="url(#sb2)"/><circle cx="403.0" cy="333.7" r="2.3" fill="url(#sp)"/><circle cx="408.1" cy="333.7" r="2.7" fill="url(#sb)"/><circle cx="414.2" cy="333.8" r="2.4" fill="url(#sb)"/><circle cx="410.9" cy="333.8" r="3.0" fill="url(#sb)"/><circle cx="430.0" cy="333.8" r="2.6" fill="url(#sb2)"/><circle cx="434.1" cy="333.8" r="2.4" fill="url(#sb)"/><circle cx="377.6" cy="333.9" r="2.4" fill="url(#sb)"/><circle cx="416.3" cy="334.0" r="2.5" fill="url(#sb)"/><circle cx="416.5" cy="334.1" r="2.6" fill="url(#sb2)"/><circle cx="369.3" cy="334.1" r="2.1" fill="url(#sb)"/><circle cx="366.3" cy="334.2" r="2.4" fill="url(#sb2)"/><circle cx="434.6" cy="334.3" r="2.4" fill="url(#sb2)"/><circle cx="368.1" cy="334.4" r="2.4" fill="url(#sb2)"/><circle cx="411.9" cy="334.5" r="2.7" fill="url(#sb2)"/><circle cx="421.4" cy="334.5" r="2.5" fill="url(#sb)"/><circle cx="436.7" cy="334.6" r="2.2" fill="url(#sb2)"/><circle cx="423.4" cy="334.7" r="2.5" fill="url(#sb2)"/><circle cx="377.7" cy="334.8" r="3.0" fill="url(#sb2)"/><circle cx="392.3" cy="334.9" r="2.4" fill="url(#sb)"/><circle cx="422.6" cy="335.1" r="2.7" fill="url(#sb)"/><circle cx="370.4" cy="335.1" r="3.1" fill="url(#sb)"/><circle cx="431.6" cy="335.2" r="2.2" fill="url(#sb)"/><circle cx="373.0" cy="335.3" r="2.4" fill="url(#sb)"/><circle cx="426.2" cy="335.4" r="2.8" fill="url(#sb2)"/><circle cx="372.9" cy="335.5" r="3.0" fill="url(#sb)"/><circle cx="392.9" cy="335.5" r="2.4" fill="url(#sb2)"/><circle cx="422.7" cy="335.8" r="2.8" fill="url(#sb)"/><circle cx="377.4" cy="335.8" r="2.7" fill="url(#sb2)"/><circle cx="386.7" cy="336.0" r="3.0" fill="url(#sb)"/><circle cx="418.4" cy="336.2" r="2.3" fill="url(#sb2)"/><circle cx="443.9" cy="336.3" r="2.4" fill="url(#sb)"/><circle cx="410.9" cy="336.3" r="2.3" fill="url(#sb)"/><circle cx="441.5" cy="336.4" r="2.4" fill="url(#sb)"/><circle cx="443.5" cy="336.6" r="3.0" fill="url(#sb)"/><circle cx="391.1" cy="336.7" r="2.3" fill="url(#sb2)"/><circle cx="392.4" cy="336.7" r="2.2" fill="url(#sb)"/><circle cx="382.0" cy="336.8" r="2.9" fill="url(#sb)"/><circle cx="403.3" cy="336.9" r="1.9" fill="url(#sp)"/><circle cx="398.5" cy="337.0" r="1.7" fill="url(#sp)"/><circle cx="435.5" cy="337.4" r="2.9" fill="url(#sb)"/><circle cx="428.9" cy="337.5" r="2.2" fill="url(#sb)"/><circle cx="384.0" cy="337.5" r="2.8" fill="url(#sb)"/><circle cx="410.7" cy="337.5" r="2.5" fill="url(#sb)"/><circle cx="437.0" cy="337.6" r="2.4" fill="url(#sb2)"/><circle cx="385.7" cy="337.7" r="2.7" fill="url(#sb)"/><circle cx="387.2" cy="337.7" r="2.4" fill="url(#sb2)"/><circle cx="438.5" cy="337.7" r="2.4" fill="url(#sb)"/><circle cx="414.7" cy="337.7" r="2.4" fill="url(#sb)"/><circle cx="397.5" cy="337.9" r="2.8" fill="url(#sb2)"/><circle cx="361.0" cy="338.0" r="3.0" fill="url(#sb)"/><circle cx="404.3" cy="338.2" r="2.2" fill="url(#sb)"/><circle cx="413.6" cy="338.3" r="2.2" fill="url(#sb)"/><circle cx="418.7" cy="338.6" r="2.4" fill="url(#sb)"/><circle cx="392.6" cy="338.9" r="2.1" fill="url(#sb)"/><circle cx="375.1" cy="339.1" r="2.3" fill="url(#sb2)"/><circle cx="402.2" cy="339.4" r="2.4" fill="url(#sp)"/><circle cx="361.9" cy="339.4" r="3.0" fill="url(#sb2)"/><circle cx="373.6" cy="339.5" r="2.7" fill="url(#sb)"/><circle cx="376.1" cy="339.6" r="2.7" fill="url(#sb)"/><circle cx="403.6" cy="339.6" r="2.5" fill="url(#sb2)"/><circle cx="399.2" cy="339.9" r="2.9" fill="url(#sb)"/><circle cx="389.5" cy="340.0" r="3.0" fill="url(#sb)"/><circle cx="392.6" cy="340.2" r="3.0" fill="url(#sb)"/><circle cx="390.8" cy="340.4" r="3.0" fill="url(#sb2)"/><circle cx="365.1" cy="340.4" r="3.0" fill="url(#sb)"/><circle cx="437.3" cy="340.5" r="2.2" fill="url(#sb2)"/><circle cx="415.0" cy="340.6" r="2.9" fill="url(#sb)"/><circle cx="385.4" cy="340.9" r="2.9" fill="url(#sb)"/><circle cx="414.7" cy="340.9" r="2.5" fill="url(#sb)"/><circle cx="400.0" cy="341.0" r="2.7" fill="url(#sb)"/><circle cx="397.2" cy="341.1" r="2.3" fill="url(#sp)"/><circle cx="427.0" cy="341.1" r="2.6" fill="url(#sb)"/><circle cx="361.9" cy="341.3" r="2.2" fill="url(#sb)"/><circle cx="384.1" cy="341.5" r="2.2" fill="url(#sb2)"/><circle cx="400.8" cy="341.5" r="3.0" fill="url(#sb)"/><circle cx="390.8" cy="341.6" r="2.2" fill="url(#sb2)"/><circle cx="428.9" cy="341.7" r="2.8" fill="url(#sb)"/><circle cx="405.5" cy="341.8" r="2.2" fill="url(#sb2)"/><circle cx="364.5" cy="342.4" r="2.4" fill="url(#sb)"/><circle cx="422.4" cy="342.4" r="3.1" fill="url(#sb2)"/><circle cx="404.5" cy="342.5" r="2.0" fill="url(#sp)"/><circle cx="408.4" cy="342.5" r="2.8" fill="url(#sb2)"/><circle cx="366.3" cy="342.5" r="3.0" fill="url(#sb)"/><circle cx="400.7" cy="342.8" r="2.5" fill="url(#sb2)"/><circle cx="389.3" cy="342.9" r="3.0" fill="url(#sb)"/><circle cx="398.5" cy="343.1" r="2.2" fill="url(#sb)"/><circle cx="425.4" cy="343.1" r="2.3" fill="url(#sb)"/><circle cx="392.8" cy="343.1" r="2.8" fill="url(#sb2)"/><circle cx="435.8" cy="343.4" r="2.9" fill="url(#sb)"/><circle cx="382.5" cy="343.7" r="2.3" fill="url(#sb)"/><circle cx="370.3" cy="343.9" r="2.9" fill="url(#sb)"/><circle cx="420.0" cy="344.2" r="2.3" fill="url(#sb)"/><circle cx="396.7" cy="344.2" r="2.0" fill="url(#sp)"/><circle cx="406.7" cy="344.3" r="1.7" fill="url(#sp)"/><circle cx="406.6" cy="344.3" r="2.3" fill="url(#sb)"/><circle cx="440.9" cy="344.6" r="2.7" fill="url(#sb2)"/><circle cx="384.7" cy="344.6" r="2.3" fill="url(#sb)"/><circle cx="403.3" cy="344.7" r="2.1" fill="url(#sp)"/><circle cx="429.4" cy="345.0" r="3.0" fill="url(#sb2)"/><circle cx="395.6" cy="345.1" r="2.2" fill="url(#sb)"/><circle cx="384.7" cy="345.7" r="3.1" fill="url(#sb)"/><circle cx="405.7" cy="345.7" r="3.0" fill="url(#sb)"/><circle cx="403.2" cy="345.8" r="2.4" fill="url(#sb)"/><circle cx="403.5" cy="345.8" r="2.8" fill="url(#sb2)"/><circle cx="432.8" cy="345.8" r="3.0" fill="url(#sb)"/><circle cx="386.6" cy="345.9" r="2.7" fill="url(#sb2)"/><circle cx="378.1" cy="346.0" r="3.1" fill="url(#sb)"/><circle cx="409.6" cy="346.1" r="2.3" fill="url(#sb2)"/><circle cx="416.2" cy="346.2" r="3.0" fill="url(#sb)"/><circle cx="408.4" cy="346.3" r="2.0" fill="url(#sp)"/><circle cx="375.8" cy="346.3" r="2.4" fill="url(#sb2)"/><circle cx="390.8" cy="346.5" r="2.8" fill="url(#sb)"/><circle cx="401.2" cy="346.5" r="3.0" fill="url(#sb2)"/><circle cx="398.7" cy="346.5" r="1.8" fill="url(#sp)"/><circle cx="435.3" cy="347.0" r="2.6" fill="url(#sb)"/><circle cx="440.8" cy="347.2" r="3.0" fill="url(#sb2)"/><circle cx="427.7" cy="347.3" r="2.3" fill="url(#sb)"/><circle cx="376.1" cy="347.7" r="2.4" fill="url(#sb2)"/><circle cx="380.9" cy="347.8" r="3.0" fill="url(#sb2)"/><circle cx="428.7" cy="347.9" r="3.0" fill="url(#sb)"/><circle cx="395.0" cy="347.9" r="3.1" fill="url(#sb)"/><circle cx="424.3" cy="348.0" r="2.9" fill="url(#sb)"/><circle cx="419.0" cy="348.1" r="2.5" fill="url(#sb)"/><circle cx="409.6" cy="348.1" r="2.4" fill="url(#sb)"/><circle cx="406.6" cy="348.3" r="2.9" fill="url(#sb2)"/><circle cx="386.8" cy="348.3" r="2.4" fill="url(#sb)"/><circle cx="402.3" cy="348.4" r="2.2" fill="url(#sb)"/><circle cx="422.3" cy="348.5" r="2.4" fill="url(#sb2)"/><circle cx="390.2" cy="348.7" r="2.8" fill="url(#sb)"/><circle cx="405.9" cy="348.8" r="2.9" fill="url(#sb2)"/><circle cx="396.4" cy="348.8" r="2.9" fill="url(#sb2)"/><circle cx="395.0" cy="349.0" r="2.9" fill="url(#sb)"/><circle cx="367.6" cy="349.0" r="2.6" fill="url(#sb2)"/><circle cx="435.6" cy="349.0" r="2.6" fill="url(#sb)"/><circle cx="363.9" cy="349.0" r="2.4" fill="url(#sb)"/><circle cx="379.6" cy="349.0" r="2.9" fill="url(#sb)"/><circle cx="368.7" cy="349.3" r="3.0" fill="url(#sb)"/><circle cx="404.3" cy="349.3" r="2.3" fill="url(#sp)"/><circle cx="437.8" cy="349.4" r="2.2" fill="url(#sb)"/><circle cx="421.2" cy="349.5" r="2.3" fill="url(#sb)"/><circle cx="423.0" cy="349.7" r="2.1" fill="url(#sb)"/><circle cx="422.2" cy="349.9" r="2.6" fill="url(#sb2)"/><circle cx="369.6" cy="350.0" r="2.6" fill="url(#sb2)"/><circle cx="420.1" cy="350.0" r="2.8" fill="url(#sb)"/><circle cx="398.2" cy="350.1" r="2.1" fill="url(#sp)"/><circle cx="427.1" cy="350.2" r="2.4" fill="url(#sb)"/><circle cx="373.6" cy="350.2" r="2.2" fill="url(#sb)"/><circle cx="365.9" cy="350.2" r="2.7" fill="url(#sb)"/><circle cx="400.7" cy="350.3" r="2.2" fill="url(#sp)"/><circle cx="368.5" cy="350.5" r="2.7" fill="url(#sb)"/><circle cx="415.8" cy="350.5" r="3.0" fill="url(#sb)"/><circle cx="382.4" cy="350.6" r="2.6" fill="url(#sb)"/><circle cx="421.8" cy="350.7" r="3.0" fill="url(#sb)"/><circle cx="405.8" cy="351.0" r="2.2" fill="url(#sb)"/><circle cx="369.4" cy="351.0" r="2.6" fill="url(#sb)"/><circle cx="414.0" cy="351.0" r="2.8" fill="url(#sb)"/><circle cx="378.0" cy="351.4" r="2.6" fill="url(#sb2)"/><circle cx="387.9" cy="351.4" r="2.1" fill="url(#sb2)"/><circle cx="382.3" cy="351.5" r="2.2" fill="url(#sb)"/><circle cx="371.6" cy="351.9" r="3.0" fill="url(#sb)"/><circle cx="401.3" cy="352.0" r="1.7" fill="url(#sp)"/><circle cx="372.3" cy="352.0" r="3.0" fill="url(#sb)"/><circle cx="433.6" cy="352.1" r="2.2" fill="url(#sb2)"/><circle cx="396.7" cy="352.4" r="2.7" fill="url(#sb)"/><circle cx="425.0" cy="352.5" r="2.1" fill="url(#sp)"/><circle cx="369.9" cy="352.5" r="3.0" fill="url(#sb2)"/><circle cx="412.6" cy="352.6" r="2.5" fill="url(#sb)"/><circle cx="378.5" cy="352.6" r="2.2" fill="url(#sb)"/><circle cx="438.9" cy="352.9" r="2.7" fill="url(#sb2)"/><circle cx="385.3" cy="353.0" r="2.2" fill="url(#sb)"/><circle cx="384.2" cy="353.0" r="2.6" fill="url(#sb2)"/><circle cx="425.9" cy="353.2" r="2.6" fill="url(#sb)"/><circle cx="438.0" cy="353.3" r="2.4" fill="url(#sb)"/><circle cx="435.5" cy="353.6" r="3.1" fill="url(#sb)"/><circle cx="437.4" cy="354.2" r="2.8" fill="url(#sb2)"/><circle cx="394.5" cy="354.3" r="2.5" fill="url(#sb2)"/><circle cx="415.7" cy="354.3" r="2.4" fill="url(#sb2)"/><circle cx="397.3" cy="354.6" r="2.4" fill="url(#sb)"/><circle cx="416.9" cy="354.8" r="2.4" fill="url(#sb2)"/><circle cx="381.4" cy="354.8" r="2.1" fill="url(#sb)"/><circle cx="431.9" cy="355.0" r="2.1" fill="url(#sb)"/><circle cx="429.1" cy="355.4" r="2.2" fill="url(#sb2)"/><circle cx="371.0" cy="355.4" r="2.8" fill="url(#sb2)"/><circle cx="411.8" cy="355.6" r="2.3" fill="url(#sb)"/><circle cx="379.6" cy="355.8" r="3.1" fill="url(#sb)"/><circle cx="431.1" cy="355.9" r="3.1" fill="url(#sb)"/><circle cx="434.2" cy="356.3" r="2.8" fill="url(#sb)"/><circle cx="423.6" cy="356.3" r="2.2" fill="url(#sp)"/><circle cx="381.9" cy="356.5" r="2.4" fill="url(#sb)"/><circle cx="367.2" cy="356.6" r="2.2" fill="url(#sb)"/><circle cx="409.1" cy="356.8" r="1.9" fill="url(#sp)"/><circle cx="393.5" cy="356.9" r="1.9" fill="url(#sp)"/><circle cx="367.8" cy="357.1" r="2.4" fill="url(#sb)"/><circle cx="414.5" cy="357.2" r="2.1" fill="url(#sp)"/><circle cx="431.9" cy="357.3" r="3.1" fill="url(#sb2)"/><circle cx="389.1" cy="357.4" r="2.4" fill="url(#sb2)"/><circle cx="431.5" cy="357.4" r="2.4" fill="url(#sb2)"/><circle cx="380.9" cy="358.3" r="2.7" fill="url(#sb2)"/><circle cx="370.9" cy="358.3" r="2.8" fill="url(#sb2)"/><circle cx="419.7" cy="358.4" r="1.7" fill="url(#sp)"/><circle cx="432.9" cy="358.5" r="3.0" fill="url(#sb2)"/><circle cx="425.7" cy="358.6" r="2.4" fill="url(#sb2)"/><circle cx="390.9" cy="358.6" r="2.2" fill="url(#sb)"/><circle cx="384.7" cy="358.9" r="2.7" fill="url(#sb2)"/><circle cx="385.8" cy="358.9" r="2.2" fill="url(#sb)"/><circle cx="413.1" cy="359.0" r="2.2" fill="url(#sp)"/><circle cx="396.4" cy="359.3" r="2.1" fill="url(#sp)"/><circle cx="400.9" cy="359.6" r="2.1" fill="url(#sp)"/><circle cx="372.0" cy="359.7" r="2.7" fill="url(#sb2)"/><circle cx="421.3" cy="359.7" r="2.4" fill="url(#sp)"/><circle cx="398.3" cy="359.7" r="1.9" fill="url(#sp)"/><circle cx="370.4" cy="359.7" r="2.3" fill="url(#sb)"/><circle cx="386.3" cy="359.9" r="2.6" fill="url(#sb)"/><circle cx="374.5" cy="359.9" r="3.1" fill="url(#sb2)"/><circle cx="390.9" cy="359.9" r="2.9" fill="url(#sb)"/><circle cx="401.5" cy="360.1" r="1.9" fill="url(#sp)"/><circle cx="413.4" cy="360.4" r="2.1" fill="url(#sp)"/><circle cx="415.2" cy="360.6" r="2.6" fill="url(#sb)"/><circle cx="411.1" cy="360.9" r="2.4" fill="url(#sp)"/><circle cx="395.8" cy="361.1" r="1.8" fill="url(#sp)"/><circle cx="426.8" cy="361.1" r="2.1" fill="url(#sb)"/><circle cx="431.5" cy="361.3" r="2.1" fill="url(#sb2)"/><circle cx="418.9" cy="361.3" r="2.1" fill="url(#sp)"/><circle cx="397.2" cy="361.7" r="2.4" fill="url(#sp)"/><circle cx="407.8" cy="362.1" r="2.5" fill="url(#sb2)"/><circle cx="400.4" cy="362.4" r="2.3" fill="url(#sp)"/><circle cx="429.5" cy="362.7" r="2.9" fill="url(#sb)"/><circle cx="401.5" cy="362.7" r="1.9" fill="url(#sp)"/><circle cx="429.8" cy="362.8" r="3.0" fill="url(#sb)"/><circle cx="424.4" cy="363.0" r="2.3" fill="url(#sb2)"/><circle cx="404.9" cy="363.2" r="3.1" fill="url(#sb)"/><circle cx="433.6" cy="363.3" r="2.7" fill="url(#sb)"/><circle cx="400.3" cy="363.3" r="2.4" fill="url(#sb)"/><circle cx="386.7" cy="363.4" r="2.3" fill="url(#sb)"/><circle cx="391.1" cy="363.4" r="2.0" fill="url(#sp)"/><circle cx="399.7" cy="363.5" r="2.3" fill="url(#sp)"/><circle cx="407.5" cy="363.6" r="2.2" fill="url(#sb)"/><circle cx="386.6" cy="364.1" r="2.8" fill="url(#sb)"/><circle cx="426.8" cy="364.6" r="3.0" fill="url(#sb)"/><circle cx="421.7" cy="364.7" r="2.2" fill="url(#sb)"/><circle cx="419.8" cy="364.8" r="2.1" fill="url(#sp)"/><circle cx="395.8" cy="365.6" r="1.8" fill="url(#sp)"/><circle cx="428.8" cy="365.7" r="2.9" fill="url(#sb2)"/><circle cx="420.3" cy="365.9" r="3.0" fill="url(#sb)"/><circle cx="424.3" cy="366.4" r="2.2" fill="url(#sp)"/><circle cx="407.0" cy="366.5" r="2.4" fill="url(#sb)"/><circle cx="428.6" cy="366.5" r="2.1" fill="url(#sb)"/><circle cx="431.9" cy="366.6" r="2.7" fill="url(#sb)"/><circle cx="413.3" cy="366.6" r="2.1" fill="url(#sp)"/><circle cx="385.0" cy="366.7" r="2.4" fill="url(#sb)"/><circle cx="432.8" cy="366.8" r="2.9" fill="url(#sb2)"/><circle cx="385.6" cy="366.9" r="2.3" fill="url(#sb)"/><circle cx="425.1" cy="366.9" r="1.7" fill="url(#sp)"/><circle cx="404.5" cy="367.2" r="2.3" fill="url(#sb2)"/><circle cx="431.5" cy="367.2" r="2.2" fill="url(#sb2)"/><circle cx="414.6" cy="367.3" r="1.7" fill="url(#sp)"/><circle cx="377.0" cy="367.4" r="3.1" fill="url(#sb2)"/><circle cx="414.0" cy="367.5" r="2.1" fill="url(#sp)"/><circle cx="387.5" cy="367.6" r="2.2" fill="url(#sb2)"/><circle cx="409.7" cy="367.9" r="2.8" fill="url(#sb2)"/><circle cx="411.8" cy="368.1" r="2.4" fill="url(#sb2)"/><circle cx="399.8" cy="368.6" r="2.4" fill="url(#sp)"/><circle cx="376.5" cy="368.6" r="2.9" fill="url(#sb)"/><circle cx="404.0" cy="368.7" r="2.9" fill="url(#sb)"/><circle cx="420.1" cy="368.7" r="2.4" fill="url(#sb)"/><circle cx="410.9" cy="368.9" r="2.5" fill="url(#sb)"/><circle cx="377.6" cy="369.0" r="2.6" fill="url(#sb)"/><circle cx="387.5" cy="369.2" r="3.0" fill="url(#sb)"/><circle cx="418.8" cy="369.6" r="1.9" fill="url(#sp)"/><circle cx="379.1" cy="369.8" r="2.5" fill="url(#sb)"/><circle cx="380.3" cy="370.0" r="2.3" fill="url(#sb)"/><circle cx="419.4" cy="370.2" r="2.2" fill="url(#sp)"/><circle cx="420.9" cy="370.9" r="3.1" fill="url(#sb2)"/><circle cx="403.7" cy="371.1" r="2.2" fill="url(#sb)"/><circle cx="428.3" cy="371.1" r="2.1" fill="url(#sb)"/><circle cx="385.1" cy="371.2" r="3.0" fill="url(#sb2)"/><circle cx="382.0" cy="371.2" r="2.2" fill="url(#sb)"/><circle cx="393.6" cy="371.3" r="2.5" fill="url(#sb)"/><circle cx="409.0" cy="371.7" r="2.6" fill="url(#sb2)"/><circle cx="382.2" cy="371.7" r="2.2" fill="url(#sb2)"/><circle cx="390.1" cy="372.0" r="2.9" fill="url(#sb2)"/><circle cx="407.2" cy="372.0" r="2.9" fill="url(#sb2)"/><circle cx="425.5" cy="372.3" r="2.2" fill="url(#sb)"/><circle cx="395.6" cy="372.3" r="3.1" fill="url(#sb)"/><circle cx="419.5" cy="372.3" r="2.6" fill="url(#sb)"/><circle cx="398.5" cy="372.9" r="3.0" fill="url(#sb2)"/><circle cx="404.1" cy="373.0" r="2.4" fill="url(#sb)"/><circle cx="392.0" cy="373.0" r="2.2" fill="url(#sb)"/>
<circle cx="362.2" cy="304.7" r="2.2" fill="#6a40c0"/>
<path d="M360.4 311.0L377.5 318.2" stroke="#c8cbd8" stroke-width="0.4"/>
  </g>
</svg>

<div class="pill" style="left:223px;top:208.5px;width:154px;background:radial-gradient(ellipse 34px 13px at 77px 0px, rgba(40,100,50,0.5), rgba(40,100,50,0)) , #7cba6c;">Personalized medicine</div>
<div class="pill" style="left:126px;top:370.5px;width:128px;line-height:28px;height:26.5px;background:radial-gradient(ellipse 46px 15px at 66px 0px, rgba(0,75,95,0.65), rgba(0,75,95,0)) , #52b3c2;">Systems medicine</div>
<div class="pill" style="left:322px;top:370px;width:173px;line-height:29px;height:27px;background:radial-gradient(ellipse 46px 15px at 84px 0px, rgba(0,95,85,0.6), rgba(0,95,85,0)) , #56c5b5;">Drug &amp; vaccine innovation</div>

<div id="bubble"></div>
<div id="btext">Diagnostics and treatments adapted to the individual<br><span class="l2">would <span class="g">minimize failures and adverse effects</span></span></div>

<div id="footer"></div>
<div id="cite">Cauchemez S et al. Standing the test of COVID-19: charting the new frontiers<br>of medicine. Front Sci (2024) 2:1236919. doi: 10.3389/fsci.2024.1236919</div>

<svg class="abs" style="left:386px;top:558px" width="24" height="24" viewBox="0 0 24 24">
  <polygon points="6,4.2 9,3 12,4.4 12,6.4 6.4,6.4" fill="#2bb3c0"/>
  <polygon points="6,6 10.2,6.6 10.2,10 6,9.6" fill="#e8202a"/>
  <polygon points="10,5.6 12,4.4 12,10 10,10.2" fill="#12925a"/>
  <polygon points="12,6.4 17,6 18,10.4 12.6,10.8" fill="#f7a01a"/>
  <polygon points="12.6,10.8 18,10.4 17.4,13.2 12.4,14" fill="#1ea6e0"/>
  <polygon points="10.6,9.8 12.6,10.2 12.8,13 11.6,13.6 10.6,12" fill="#7b3d9a"/>
  <polygon points="4.8,12.6 10.4,11 11,17.6 5,17.8" fill="#a5c826"/>
  <polygon points="10.2,11.4 12,14 14,15 14,18.8 10.6,17.6" fill="#f3d611"/>
  <polygon points="6,17.6 11,17.4 13.4,18.6 10,20.4 7,20" fill="#1a3bb0" opacity="0.8"/>
</svg>
<div class="abs" style="left:408.2px;top:563.2px;font-size:14.4px;line-height:17px;font-weight:bold;color:#fff;letter-spacing:0.4px;">frontiers</div>
<div class="abs" style="left:476.5px;top:562px;width:1px;height:16.6px;background:#7080d0;"></div>
<div class="abs" style="left:485.3px;top:565.2px;font-size:10.5px;line-height:13px;color:#fff;letter-spacing:-0.28px;">Frontiers in Science</div>
</body></html>
